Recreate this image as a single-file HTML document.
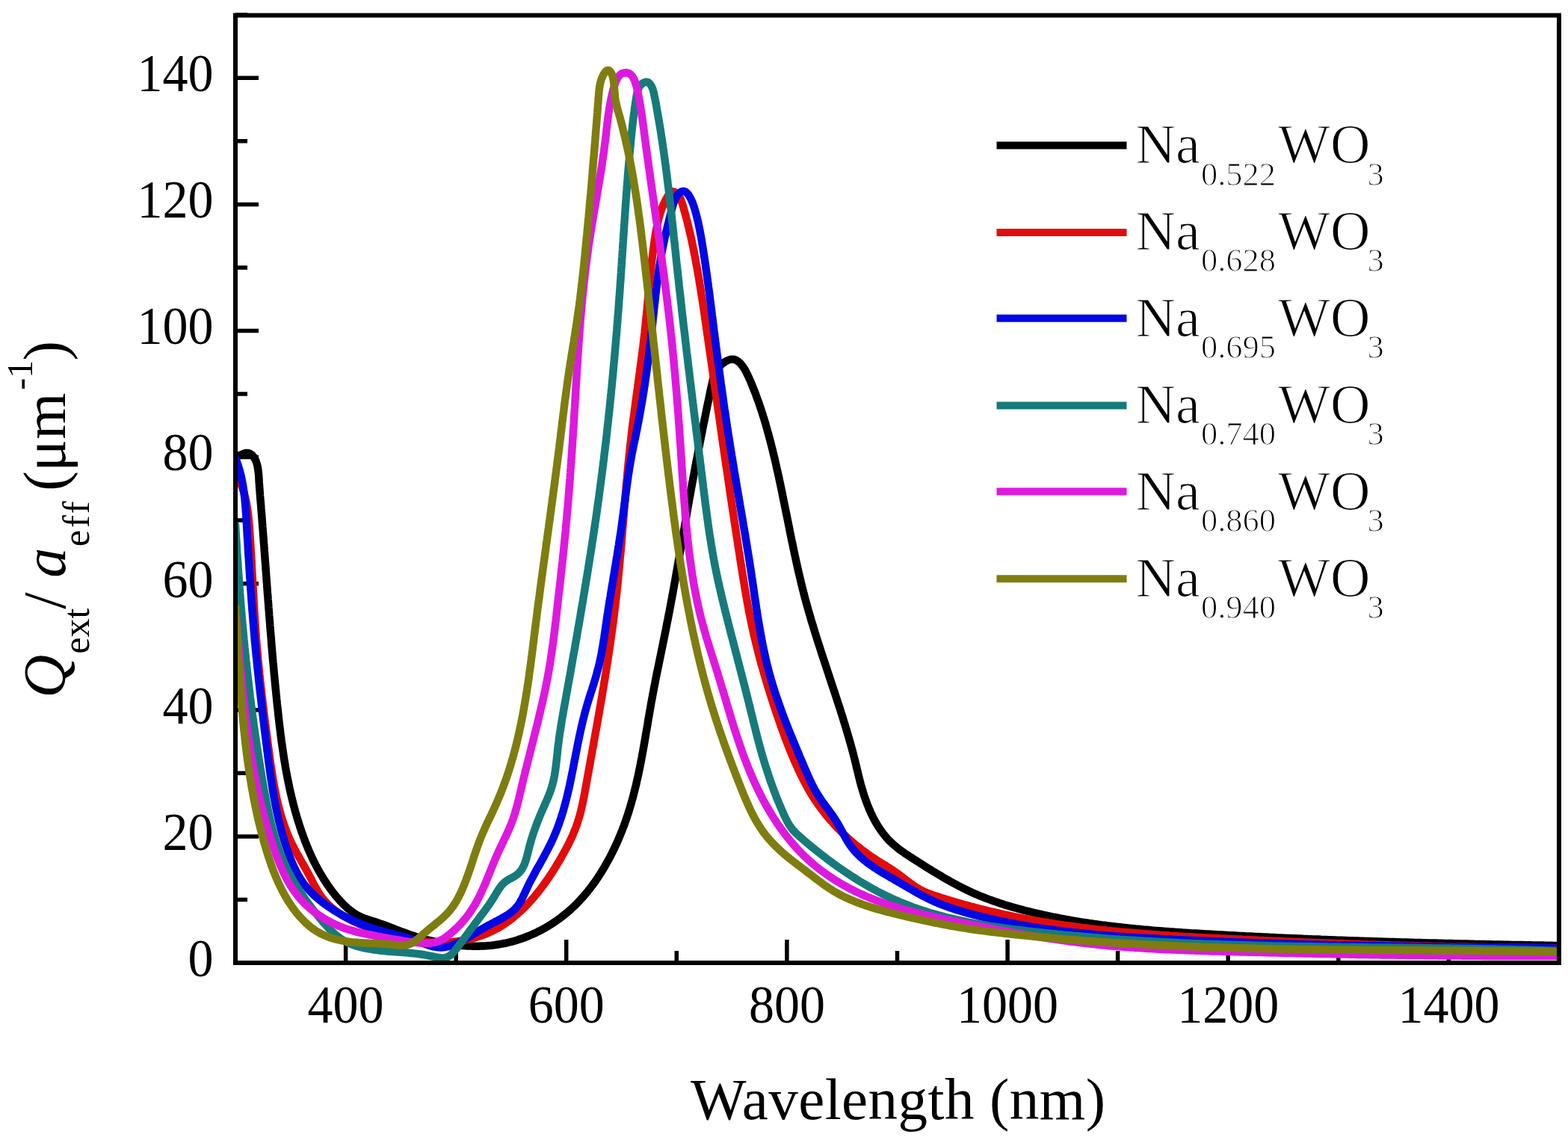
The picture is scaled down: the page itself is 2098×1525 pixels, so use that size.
<!DOCTYPE html>
<html><head><meta charset="utf-8"><style>
html,body{margin:0;padding:0;background:#fff;}
svg{display:block;}
text{font-variant-ligatures:none;font-family:"Liberation Serif","Times New Roman",serif;fill:#000;}
.t{font-size:68px;}
.xt{font-size:79px;letter-spacing:0.45px;}
.yt{font-size:80px;}
.lg{font-size:74px;stroke:#fff;stroke-width:1.2px;}
</style></head><body>
<svg width="2098" height="1525" viewBox="0 0 2098 1525" xmlns="http://www.w3.org/2000/svg">
<defs><clipPath id="cp"><rect x="315" y="20" width="1771" height="1268"/></clipPath></defs>
<rect width="2098" height="1525" fill="#fff"/>
<path d="M462.6,1288V1257 M757.7,1288V1257 M1052.9,1288V1257 M1348.1,1288V1257 M1643.2,1288V1257 M1938.4,1288V1257 M610.2,1288V1272 M905.3,1288V1272 M1200.5,1288V1272 M1495.6,1288V1272 M1790.8,1288V1272 M315,1288.0H346 M315,1118.9H346 M315,949.8H346 M315,780.7H346 M315,611.6H346 M315,442.5H346 M315,273.4H346 M315,104.3H346 M315,1203.5H331 M315,1034.3H331 M315,865.2H331 M315,696.1H331 M315,527.0H331 M315,358.0H331 M315,188.8H331 M315,19.8H331" stroke="#000" stroke-width="5.5" fill="none"/>
<g clip-path="url(#cp)" fill="none" stroke-width="10.5" stroke-linejoin="round" stroke-linecap="round">
<path d="M315.0,611.0L318.3,610.1L321.7,608.7L325.1,607.2L328.5,606.1L331.7,605.9L334.6,606.9L337.2,608.8L339.3,611.2L341.1,614.0L342.5,616.9L343.6,620.1L344.5,623.5L345.1,627.0L345.6,630.6L346.0,634.3L346.3,638.0L346.5,641.7L346.7,645.4L347.0,649.0L347.2,652.5L347.5,656.1L347.8,659.6L348.0,663.1L348.3,666.5L348.6,670.0L348.9,673.5L349.2,676.9L349.4,680.4L349.7,683.8L350.0,687.3L350.3,690.8L350.5,694.2L350.8,697.7L351.1,701.2L351.3,704.6L351.6,708.1L351.9,711.6L352.1,715.0L352.4,718.5L352.7,722.0L352.9,725.5L353.2,728.9L353.5,732.4L353.7,735.9L354.0,739.4L354.2,742.8L354.5,746.3L354.7,749.8L355.0,753.3L355.3,756.8L355.5,760.3L355.8,763.8L356.0,767.2L356.3,770.7L356.5,774.2L356.8,777.7L357.1,781.2L357.3,784.7L357.6,788.2L357.8,791.7L358.1,795.2L358.4,798.6L358.6,802.1L358.9,805.6L359.2,809.1L359.4,812.6L359.7,816.1L360.0,819.6L360.2,823.1L360.5,826.6L360.8,830.1L361.1,833.6L361.3,837.1L361.6,840.6L361.9,844.1L362.2,847.6L362.5,851.0L362.8,854.5L363.0,858.0L363.3,861.5L363.6,865.0L363.9,868.5L364.2,872.0L364.5,875.5L364.8,879.0L365.1,882.5L365.4,886.0L365.8,889.5L366.1,893.0L366.4,896.4L366.7,899.9L367.0,903.4L367.4,906.9L367.7,910.4L368.0,913.9L368.4,917.4L368.7,920.9L369.1,924.3L369.4,927.8L369.8,931.3L370.1,934.8L370.5,938.3L370.8,941.8L371.2,945.2L371.6,948.7L372.0,952.2L372.3,955.7L372.7,959.1L373.1,962.6L373.5,966.1L373.9,969.6L374.3,973.0L374.8,976.5L375.2,980.0L375.6,983.4L376.1,986.9L376.5,990.4L377.0,993.8L377.5,997.3L378.0,1000.7L378.5,1004.2L379.0,1007.6L379.5,1011.1L380.0,1014.5L380.6,1018.0L381.2,1021.4L381.7,1024.8L382.3,1028.3L382.9,1031.7L383.6,1035.1L384.2,1038.6L384.9,1042.0L385.6,1045.4L386.3,1048.8L387.0,1052.2L387.7,1055.6L388.5,1059.1L389.3,1062.5L390.1,1065.9L390.9,1069.3L391.7,1072.6L392.6,1076.0L393.5,1079.4L394.4,1082.8L395.3,1086.2L396.3,1089.5L397.2,1092.9L398.3,1096.3L399.3,1099.6L400.4,1103.0L401.4,1106.3L402.6,1109.7L403.7,1113.0L404.9,1116.3L406.1,1119.7L407.3,1123.0L408.6,1126.3L409.9,1129.5L411.2,1132.8L412.6,1136.1L413.9,1139.3L415.4,1142.5L416.8,1145.7L418.3,1148.9L419.9,1152.1L421.4,1155.2L423.0,1158.3L424.7,1161.4L426.4,1164.5L428.1,1167.5L429.9,1170.6L431.7,1173.5L433.5,1176.5L435.4,1179.4L437.3,1182.4L439.3,1185.2L441.3,1188.1L443.4,1190.9L445.5,1193.6L447.6,1196.4L449.8,1199.1L452.1,1201.7L454.4,1204.4L456.7,1206.9L459.1,1209.4L461.6,1211.8L464.2,1214.2L466.8,1216.4L469.5,1218.5L472.3,1220.6L475.2,1222.5L478.2,1224.2L481.3,1225.9L484.5,1227.3L487.8,1228.6L491.2,1229.8L494.7,1230.9L498.2,1232.0L501.6,1233.1L505.0,1234.2L508.4,1235.4L511.7,1236.5L515.0,1237.7L518.2,1238.9L521.5,1240.2L524.7,1241.4L527.9,1242.7L531.1,1243.9L534.3,1245.1L537.5,1246.3L540.8,1247.5L544.0,1248.7L547.2,1249.9L550.5,1251.0L553.8,1252.1L557.1,1253.2L560.5,1254.2L563.9,1255.1L567.3,1256.1L570.7,1257.0L574.1,1257.8L577.6,1258.6L581.0,1259.4L584.5,1260.1L588.0,1260.8L591.5,1261.4L595.0,1262.1L598.5,1262.6L602.0,1263.1L605.4,1263.6L608.9,1264.0L612.4,1264.4L615.9,1264.8L619.4,1265.1L622.9,1265.3L626.4,1265.5L629.8,1265.6L633.3,1265.7L636.8,1265.7L640.3,1265.7L643.7,1265.6L647.2,1265.5L650.6,1265.3L654.1,1265.0L657.5,1264.7L661.0,1264.3L664.4,1263.8L667.8,1263.3L671.2,1262.7L674.6,1262.0L678.0,1261.3L681.4,1260.5L684.8,1259.7L688.2,1258.7L691.5,1257.7L694.9,1256.6L698.2,1255.5L701.5,1254.3L704.8,1253.0L708.1,1251.7L711.3,1250.3L714.5,1248.9L717.7,1247.4L720.9,1245.8L724.1,1244.2L727.2,1242.5L730.3,1240.7L733.3,1238.9L736.3,1237.1L739.3,1235.2L742.3,1233.2L745.2,1231.2L748.0,1229.2L750.9,1227.1L753.6,1224.9L756.4,1222.7L759.1,1220.5L761.7,1218.2L764.3,1215.9L766.9,1213.5L769.4,1211.1L771.9,1208.6L774.3,1206.1L776.7,1203.6L779.0,1201.0L781.3,1198.4L783.6,1195.8L785.8,1193.1L787.9,1190.4L790.1,1187.7L792.2,1184.9L794.2,1182.1L796.3,1179.3L798.2,1176.4L800.2,1173.5L802.1,1170.6L804.0,1167.7L805.8,1164.7L807.6,1161.7L809.4,1158.7L811.1,1155.7L812.8,1152.6L814.5,1149.6L816.2,1146.5L817.8,1143.4L819.4,1140.2L820.9,1137.1L822.4,1133.9L823.9,1130.7L825.4,1127.6L826.8,1124.4L828.2,1121.1L829.5,1117.9L830.9,1114.7L832.2,1111.4L833.4,1108.1L834.7,1104.9L835.9,1101.6L837.1,1098.3L838.2,1095.0L839.3,1091.7L840.4,1088.3L841.5,1085.0L842.5,1081.7L843.5,1078.3L844.5,1075.0L845.4,1071.6L846.4,1068.3L847.3,1064.9L848.1,1061.5L849.0,1058.1L849.8,1054.7L850.7,1051.4L851.5,1048.0L852.2,1044.5L853.0,1041.1L853.8,1037.7L854.5,1034.3L855.2,1030.9L855.9,1027.5L856.6,1024.0L857.3,1020.6L857.9,1017.2L858.6,1013.7L859.2,1010.3L859.9,1006.8L860.5,1003.4L861.1,999.9L861.7,996.5L862.3,993.0L862.9,989.6L863.5,986.1L864.1,982.7L864.7,979.2L865.3,975.7L865.9,972.3L866.5,968.8L867.0,965.4L867.6,961.9L868.2,958.5L868.8,955.0L869.4,951.5L870.0,948.1L870.6,944.6L871.2,941.2L871.8,937.7L872.5,934.3L873.1,930.9L873.7,927.4L874.4,924.0L875.0,920.5L875.7,917.1L876.4,913.7L877.0,910.2L877.7,906.8L878.4,903.4L879.1,899.9L879.8,896.5L880.5,893.1L881.2,889.7L881.9,886.2L882.6,882.8L883.3,879.4L884.0,876.0L884.7,872.6L885.4,869.1L886.1,865.7L886.8,862.3L887.5,858.9L888.2,855.4L888.9,852.0L889.6,848.6L890.3,845.2L891.0,841.7L891.6,838.3L892.3,834.9L893.0,831.4L893.7,828.0L894.3,824.6L895.0,821.1L895.7,817.7L896.3,814.3L897.0,810.8L897.6,807.4L898.2,803.9L898.9,800.5L899.5,797.1L900.2,793.6L900.8,790.2L901.4,786.7L902.0,783.3L902.7,779.8L903.3,776.4L903.9,772.9L904.5,769.5L905.1,766.0L905.7,762.6L906.3,759.1L906.9,755.7L907.5,752.2L908.1,748.8L908.8,745.3L909.4,741.9L910.0,738.4L910.6,735.0L911.2,731.5L911.8,728.1L912.4,724.6L913.0,721.2L913.6,717.7L914.2,714.3L914.8,710.9L915.4,707.4L916.0,704.0L916.6,700.5L917.2,697.1L917.8,693.6L918.4,690.2L919.0,686.7L919.6,683.3L920.2,679.8L920.8,676.4L921.4,673.0L922.0,669.5L922.6,666.1L923.3,662.7L923.9,659.2L924.5,655.8L925.1,652.3L925.8,648.9L926.4,645.5L927.0,642.1L927.7,638.6L928.3,635.2L929.0,631.8L929.6,628.3L930.2,624.9L930.9,621.5L931.5,618.0L932.2,614.6L932.9,611.2L933.5,607.8L934.2,604.3L934.8,600.9L935.5,597.5L936.2,594.0L936.8,590.6L937.5,587.2L938.2,583.7L938.9,580.3L939.6,576.9L940.2,573.4L940.9,570.0L941.6,566.5L942.3,563.1L943.0,559.7L943.7,556.2L944.4,552.8L945.1,549.3L945.8,545.9L946.5,542.4L947.2,539.0L948.0,535.5L948.7,532.1L949.4,528.6L950.1,525.1L950.8,521.7L951.6,518.2L952.3,514.7L953.1,511.3L954.0,507.9L955.0,504.6L956.1,501.3L957.5,498.2L959.0,495.2L960.9,492.4L963.0,489.7L965.5,487.2L968.4,485.0L971.7,483.0L975.2,481.5L978.6,480.7L981.9,480.8L985.0,481.8L987.8,483.6L990.4,485.9L992.7,488.6L994.9,491.7L996.9,494.9L998.6,498.1L1000.2,501.3L1001.7,504.5L1003.1,507.6L1004.5,510.8L1005.8,514.0L1007.1,517.2L1008.4,520.5L1009.7,523.7L1010.9,526.9L1012.1,530.2L1013.3,533.5L1014.5,536.7L1015.7,540.0L1016.8,543.3L1017.9,546.6L1019.0,549.9L1020.1,553.3L1021.1,556.6L1022.2,559.9L1023.2,563.3L1024.2,566.6L1025.1,570.0L1026.1,573.3L1027.0,576.7L1028.0,580.1L1028.9,583.5L1029.8,586.8L1030.7,590.2L1031.6,593.6L1032.4,597.0L1033.3,600.4L1034.1,603.8L1034.9,607.2L1035.8,610.6L1036.6,614.0L1037.4,617.4L1038.2,620.9L1038.9,624.3L1039.7,627.7L1040.5,631.1L1041.2,634.5L1042.0,637.9L1042.7,641.4L1043.4,644.8L1044.2,648.2L1044.9,651.6L1045.6,655.1L1046.3,658.5L1047.0,661.9L1047.7,665.4L1048.4,668.8L1049.1,672.2L1049.8,675.7L1050.5,679.1L1051.2,682.5L1051.9,686.0L1052.6,689.4L1053.3,692.8L1054.0,696.2L1054.7,699.7L1055.4,703.1L1056.1,706.5L1056.7,710.0L1057.4,713.4L1058.1,716.8L1058.8,720.3L1059.5,723.7L1060.3,727.1L1061.0,730.5L1061.7,734.0L1062.4,737.4L1063.1,740.8L1063.9,744.2L1064.6,747.6L1065.3,751.0L1066.1,754.5L1066.9,757.9L1067.6,761.3L1068.4,764.7L1069.2,768.1L1070.0,771.5L1070.8,774.9L1071.6,778.3L1072.4,781.7L1073.3,785.1L1074.1,788.5L1075.0,791.8L1075.8,795.2L1076.7,798.6L1077.6,802.0L1078.5,805.3L1079.5,808.7L1080.4,812.1L1081.3,815.4L1082.3,818.8L1083.3,822.1L1084.3,825.5L1085.2,828.8L1086.2,832.2L1087.3,835.5L1088.3,838.9L1089.3,842.2L1090.3,845.6L1091.4,848.9L1092.4,852.2L1093.5,855.6L1094.5,858.9L1095.6,862.2L1096.7,865.6L1097.8,868.9L1098.8,872.2L1099.9,875.6L1101.0,878.9L1102.1,882.2L1103.2,885.5L1104.3,888.9L1105.4,892.2L1106.5,895.5L1107.6,898.8L1108.7,902.2L1109.8,905.5L1110.9,908.8L1112.0,912.2L1113.1,915.5L1114.2,918.8L1115.3,922.2L1116.5,925.5L1117.5,928.8L1118.6,932.2L1119.7,935.5L1120.8,938.9L1121.9,942.2L1123.0,945.5L1124.1,948.9L1125.1,952.2L1126.2,955.6L1127.3,958.9L1128.3,962.3L1129.3,965.7L1130.4,969.0L1131.4,972.4L1132.4,975.7L1133.4,979.1L1134.4,982.5L1135.4,985.8L1136.4,989.2L1137.3,992.5L1138.3,995.9L1139.2,999.2L1140.1,1002.6L1141.0,1005.9L1141.9,1009.3L1142.7,1012.6L1143.6,1016.0L1144.4,1019.3L1145.2,1022.6L1146.0,1026.0L1146.8,1029.3L1147.6,1032.6L1148.4,1036.0L1149.2,1039.3L1150.1,1042.7L1150.9,1046.0L1151.8,1049.4L1152.8,1052.8L1153.8,1056.2L1154.8,1059.6L1155.9,1063.0L1157.0,1066.4L1158.2,1069.8L1159.4,1073.1L1160.7,1076.5L1162.0,1079.8L1163.4,1083.1L1164.8,1086.4L1166.3,1089.6L1167.9,1092.9L1169.5,1096.0L1171.2,1099.1L1173.0,1102.2L1174.8,1105.2L1176.7,1108.1L1178.7,1111.0L1180.8,1113.9L1182.9,1116.6L1185.1,1119.3L1187.4,1121.9L1189.7,1124.4L1192.2,1126.8L1194.7,1129.1L1197.3,1131.4L1199.9,1133.6L1202.7,1135.7L1205.4,1137.8L1208.3,1139.8L1211.1,1141.8L1214.0,1143.7L1216.9,1145.6L1219.9,1147.5L1222.8,1149.4L1225.8,1151.3L1228.7,1153.2L1231.7,1155.1L1234.7,1156.9L1237.6,1158.8L1240.6,1160.7L1243.6,1162.5L1246.6,1164.4L1249.6,1166.2L1252.6,1168.0L1255.6,1169.8L1258.6,1171.6L1261.6,1173.4L1264.7,1175.2L1267.7,1176.9L1270.7,1178.6L1273.8,1180.3L1276.9,1182.0L1280.0,1183.7L1283.1,1185.3L1286.2,1186.9L1289.3,1188.5L1292.4,1190.0L1295.6,1191.5L1298.7,1193.0L1301.9,1194.5L1305.1,1195.9L1308.3,1197.2L1311.5,1198.6L1314.8,1199.9L1318.0,1201.2L1321.3,1202.4L1324.6,1203.6L1327.9,1204.8L1331.2,1206.0L1334.5,1207.1L1337.8,1208.2L1341.1,1209.3L1344.5,1210.4L1347.8,1211.4L1351.2,1212.4L1354.5,1213.4L1357.9,1214.3L1361.3,1215.3L1364.7,1216.2L1368.1,1217.1L1371.4,1218.0L1374.8,1218.8L1378.2,1219.7L1381.6,1220.5L1385.0,1221.3L1388.5,1222.1L1391.9,1222.9L1395.3,1223.7L1398.7,1224.4L1402.1,1225.1L1405.5,1225.9L1409.0,1226.6L1412.4,1227.2L1415.8,1227.9L1419.3,1228.6L1422.7,1229.2L1426.1,1229.9L1429.6,1230.5L1433.0,1231.1L1436.4,1231.7L1439.9,1232.2L1443.3,1232.8L1446.8,1233.4L1450.2,1233.9L1453.7,1234.4L1457.1,1235.0L1460.6,1235.5L1464.1,1236.0L1467.5,1236.4L1471.0,1236.9L1474.4,1237.4L1477.9,1237.8L1481.4,1238.3L1484.8,1238.7L1488.3,1239.1L1491.8,1239.5L1495.3,1239.9L1498.7,1240.3L1502.2,1240.7L1505.7,1241.1L1509.2,1241.4L1512.7,1241.8L1516.1,1242.1L1519.6,1242.5L1523.1,1242.8L1526.6,1243.1L1530.1,1243.5L1533.6,1243.8L1537.0,1244.1L1540.5,1244.4L1544.0,1244.7L1547.5,1244.9L1551.0,1245.2L1554.5,1245.5L1558.0,1245.8L1561.5,1246.0L1565.0,1246.3L1568.5,1246.5L1572.0,1246.8L1575.5,1247.0L1579.0,1247.2L1582.4,1247.5L1585.9,1247.7L1589.4,1247.9L1592.9,1248.2L1596.4,1248.4L1599.9,1248.6L1603.4,1248.8L1606.9,1249.0L1610.4,1249.2L1613.9,1249.4L1617.4,1249.6L1620.9,1249.8L1624.4,1250.0L1627.9,1250.2L1631.4,1250.4L1634.9,1250.6L1638.4,1250.8L1641.9,1251.0L1645.4,1251.2L1648.9,1251.3L1652.4,1251.5L1655.9,1251.7L1659.4,1251.9L1662.9,1252.1L1666.4,1252.3L1669.9,1252.4L1673.4,1252.6L1676.9,1252.8L1680.4,1253.0L1683.9,1253.1L1687.4,1253.3L1690.8,1253.5L1694.3,1253.6L1697.8,1253.8L1701.3,1254.0L1704.8,1254.1L1708.3,1254.3L1711.8,1254.4L1715.3,1254.6L1718.8,1254.7L1722.3,1254.9L1725.8,1255.0L1729.3,1255.2L1732.8,1255.3L1736.3,1255.5L1739.8,1255.6L1743.3,1255.8L1746.8,1255.9L1750.3,1256.1L1753.8,1256.2L1757.3,1256.4L1760.7,1256.5L1764.2,1256.6L1767.7,1256.8L1771.2,1256.9L1774.7,1257.0L1778.2,1257.2L1781.7,1257.3L1785.2,1257.4L1788.7,1257.6L1792.2,1257.7L1795.7,1257.8L1799.2,1257.9L1802.7,1258.1L1806.2,1258.2L1809.7,1258.3L1813.2,1258.4L1816.7,1258.5L1820.2,1258.7L1823.7,1258.8L1827.1,1258.9L1830.6,1259.0L1834.1,1259.1L1837.6,1259.2L1841.1,1259.3L1844.6,1259.5L1848.1,1259.6L1851.6,1259.7L1855.1,1259.8L1858.6,1259.9L1862.1,1260.0L1865.6,1260.1L1869.1,1260.2L1872.6,1260.3L1876.1,1260.4L1879.6,1260.5L1883.1,1260.6L1886.6,1260.7L1890.1,1260.8L1893.6,1260.9L1897.1,1261.0L1900.6,1261.1L1904.0,1261.2L1907.5,1261.3L1911.0,1261.4L1914.5,1261.4L1918.0,1261.5L1921.5,1261.6L1925.0,1261.7L1928.5,1261.8L1932.0,1261.9L1935.5,1262.0L1939.0,1262.0L1942.5,1262.1L1946.0,1262.2L1949.5,1262.3L1953.0,1262.4L1956.5,1262.5L1960.0,1262.5L1963.5,1262.6L1967.0,1262.7L1970.5,1262.8L1974.0,1262.9L1977.5,1262.9L1981.0,1263.0L1984.5,1263.1L1988.0,1263.2L1991.5,1263.2L1995.0,1263.3L1998.5,1263.4L2002.0,1263.4L2005.5,1263.5L2009.0,1263.6L2012.5,1263.7L2016.0,1263.7L2019.5,1263.8L2023.0,1263.9L2026.5,1263.9L2030.0,1264.0L2033.5,1264.1L2037.0,1264.1L2040.5,1264.2L2044.0,1264.3L2047.5,1264.3L2051.0,1264.4L2054.5,1264.5L2058.0,1264.5L2061.5,1264.6L2065.0,1264.6L2068.5,1264.7L2072.0,1264.8L2075.5,1264.8L2079.0,1264.9L2082.5,1264.9L2086.0,1265.0" stroke="#000000"/>
<path d="M315.0,633.0L316.8,636.1L318.5,639.3L320.1,642.5L321.6,645.7L322.9,648.9L324.2,652.2L325.3,655.5L326.3,658.8L327.3,662.1L328.1,665.5L328.9,668.9L329.6,672.2L330.2,675.7L330.8,679.1L331.3,682.5L331.8,686.0L332.2,689.4L332.6,692.9L332.9,696.4L333.2,699.8L333.5,703.3L333.7,706.8L334.0,710.3L334.2,713.8L334.5,717.3L334.7,720.8L335.0,724.3L335.2,727.8L335.4,731.3L335.6,734.8L335.8,738.3L336.0,741.8L336.2,745.3L336.5,748.8L336.7,752.3L336.8,755.8L337.0,759.3L337.2,762.8L337.4,766.3L337.6,769.8L337.8,773.3L338.0,776.8L338.2,780.3L338.4,783.8L338.6,787.3L338.8,790.8L339.0,794.3L339.2,797.8L339.4,801.3L339.6,804.8L339.8,808.3L340.0,811.8L340.2,815.3L340.4,818.8L340.6,822.3L340.8,825.8L341.1,829.3L341.3,832.8L341.5,836.3L341.8,839.8L342.0,843.3L342.3,846.7L342.5,850.2L342.8,853.7L343.1,857.2L343.4,860.7L343.7,864.1L344.0,867.6L344.3,871.1L344.6,874.6L344.9,878.0L345.2,881.5L345.6,885.0L345.9,888.4L346.3,891.9L346.6,895.4L347.0,898.8L347.3,902.3L347.7,905.7L348.1,909.2L348.4,912.7L348.8,916.1L349.2,919.6L349.6,923.1L350.0,926.5L350.4,930.0L350.8,933.5L351.2,936.9L351.6,940.4L352.0,943.9L352.4,947.3L352.9,950.8L353.3,954.3L353.7,957.7L354.1,961.2L354.6,964.7L355.0,968.2L355.5,971.6L355.9,975.1L356.4,978.6L356.8,982.1L357.3,985.6L357.7,989.1L358.2,992.5L358.6,996.0L359.1,999.5L359.6,1003.0L360.0,1006.5L360.5,1010.0L361.0,1013.5L361.4,1017.0L361.9,1020.5L362.4,1024.0L363.0,1027.5L363.5,1031.0L364.0,1034.5L364.6,1038.0L365.1,1041.5L365.7,1045.0L366.3,1048.4L367.0,1051.9L367.6,1055.4L368.3,1058.8L369.0,1062.2L369.7,1065.7L370.5,1069.1L371.2,1072.5L372.0,1075.9L372.9,1079.3L373.8,1082.6L374.7,1086.0L375.6,1089.3L376.6,1092.7L377.6,1096.0L378.7,1099.3L379.8,1102.6L380.9,1105.8L382.1,1109.1L383.3,1112.3L384.6,1115.5L385.9,1118.7L387.3,1121.8L388.7,1125.0L390.2,1128.1L391.8,1131.2L393.3,1134.3L394.9,1137.3L396.6,1140.4L398.3,1143.4L400.0,1146.5L401.7,1149.5L403.4,1152.6L405.2,1155.6L406.9,1158.7L408.7,1161.7L410.4,1164.8L412.1,1167.9L413.8,1171.1L415.5,1174.2L417.1,1177.4L418.8,1180.6L420.4,1183.8L422.1,1186.9L423.9,1190.0L425.7,1193.1L427.5,1196.0L429.5,1198.9L431.6,1201.6L433.8,1204.3L436.1,1206.8L438.4,1209.3L440.9,1211.6L443.4,1213.9L446.0,1216.1L448.7,1218.2L451.5,1220.2L454.4,1222.1L457.3,1224.0L460.2,1225.8L463.2,1227.5L466.3,1229.2L469.4,1230.8L472.6,1232.3L475.8,1233.8L479.0,1235.3L482.3,1236.7L485.5,1238.0L488.9,1239.3L492.2,1240.6L495.5,1241.8L498.9,1243.1L502.2,1244.2L505.6,1245.4L508.9,1246.5L512.3,1247.6L515.6,1248.6L519.0,1249.7L522.4,1250.7L525.8,1251.6L529.1,1252.5L532.5,1253.4L535.9,1254.2L539.3,1255.0L542.7,1255.8L546.1,1256.5L549.5,1257.1L553.0,1257.7L556.4,1258.3L559.8,1258.8L563.3,1259.2L566.7,1259.6L570.1,1260.0L573.6,1260.3L577.1,1260.5L580.5,1260.7L584.0,1260.8L587.5,1260.8L591.0,1260.8L594.5,1260.7L598.0,1260.5L601.5,1260.3L605.1,1260.0L608.6,1259.6L612.1,1259.2L615.6,1258.7L619.0,1258.1L622.5,1257.5L626.0,1256.7L629.4,1255.9L632.8,1255.1L636.2,1254.1L639.5,1253.1L642.9,1252.0L646.2,1250.8L649.4,1249.6L652.6,1248.2L655.8,1246.8L659.0,1245.3L662.1,1243.7L665.1,1242.1L668.1,1240.4L671.1,1238.6L674.0,1236.7L676.9,1234.8L679.7,1232.8L682.5,1230.7L685.2,1228.6L688.0,1226.4L690.6,1224.1L693.3,1221.8L695.8,1219.5L698.4,1217.1L700.9,1214.7L703.4,1212.2L705.8,1209.6L708.2,1207.1L710.6,1204.5L712.9,1201.8L715.2,1199.2L717.4,1196.5L719.6,1193.7L721.8,1191.0L724.0,1188.2L726.1,1185.4L728.1,1182.6L730.2,1179.7L732.2,1176.9L734.2,1174.0L736.1,1171.1L738.1,1168.2L740.0,1165.2L741.8,1162.3L743.7,1159.3L745.5,1156.3L747.3,1153.3L749.1,1150.3L750.8,1147.3L752.5,1144.2L754.2,1141.2L755.9,1138.1L757.6,1135.0L759.2,1132.0L760.8,1128.9L762.3,1125.7L763.8,1122.6L765.3,1119.5L766.7,1116.3L768.0,1113.1L769.3,1109.9L770.6,1106.6L771.8,1103.4L772.9,1100.1L773.9,1096.8L774.9,1093.5L775.9,1090.1L776.8,1086.7L777.6,1083.3L778.4,1079.9L779.2,1076.5L779.9,1073.0L780.6,1069.6L781.3,1066.1L782.0,1062.7L782.6,1059.2L783.2,1055.7L783.9,1052.3L784.5,1048.8L785.1,1045.3L785.7,1041.8L786.4,1038.4L787.0,1034.9L787.6,1031.5L788.2,1028.0L788.9,1024.6L789.5,1021.1L790.1,1017.7L790.7,1014.2L791.4,1010.8L792.0,1007.3L792.6,1003.9L793.2,1000.4L793.9,997.0L794.5,993.5L795.1,990.1L795.7,986.7L796.3,983.2L796.9,979.8L797.6,976.3L798.2,972.9L798.8,969.5L799.4,966.0L800.0,962.6L800.6,959.1L801.2,955.7L801.8,952.3L802.4,948.8L803.0,945.4L803.6,941.9L804.2,938.5L804.8,935.1L805.4,931.6L805.9,928.2L806.5,924.7L807.1,921.3L807.7,917.8L808.2,914.4L808.8,910.9L809.4,907.5L809.9,904.0L810.5,900.6L811.0,897.1L811.6,893.7L812.1,890.2L812.7,886.7L813.2,883.3L813.7,879.8L814.2,876.4L814.8,872.9L815.3,869.4L815.8,866.0L816.3,862.5L816.8,859.1L817.3,855.6L817.8,852.1L818.3,848.7L818.7,845.2L819.2,841.7L819.7,838.3L820.1,834.8L820.6,831.3L821.0,827.8L821.5,824.4L821.9,820.9L822.3,817.4L822.8,814.0L823.2,810.5L823.6,807.0L824.0,803.5L824.4,800.1L824.8,796.6L825.2,793.1L825.5,789.6L825.9,786.1L826.3,782.7L826.6,779.2L827.0,775.7L827.3,772.2L827.7,768.7L828.0,765.3L828.3,761.8L828.7,758.3L829.0,754.8L829.3,751.3L829.6,747.8L829.9,744.4L830.3,740.9L830.6,737.4L830.9,733.9L831.2,730.4L831.5,726.9L831.8,723.5L832.1,720.0L832.3,716.5L832.6,713.0L832.9,709.5L833.2,706.0L833.5,702.5L833.8,699.1L834.1,695.6L834.4,692.1L834.7,688.6L834.9,685.1L835.2,681.6L835.5,678.1L835.8,674.7L836.1,671.2L836.4,667.7L836.7,664.2L837.0,660.7L837.3,657.2L837.6,653.7L837.9,650.3L838.2,646.8L838.5,643.3L838.9,639.8L839.2,636.3L839.5,632.8L839.8,629.4L840.2,625.9L840.5,622.4L840.8,618.9L841.2,615.4L841.5,612.0L841.9,608.5L842.3,605.0L842.6,601.5L843.0,598.0L843.4,594.6L843.8,591.1L844.2,587.6L844.6,584.1L845.0,580.7L845.4,577.2L845.8,573.7L846.2,570.2L846.7,566.8L847.1,563.3L847.6,559.8L848.0,556.4L848.5,552.9L848.9,549.4L849.4,545.9L849.9,542.5L850.3,539.0L850.8,535.5L851.3,532.1L851.7,528.6L852.2,525.1L852.7,521.7L853.2,518.2L853.6,514.7L854.1,511.3L854.6,507.8L855.0,504.3L855.5,500.9L856.0,497.4L856.4,493.9L856.9,490.4L857.4,487.0L857.8,483.5L858.3,480.0L858.7,476.6L859.2,473.1L859.6,469.6L860.0,466.2L860.5,462.7L860.9,459.2L861.3,455.7L861.7,452.3L862.1,448.8L862.5,445.3L862.8,441.8L863.2,438.4L863.6,434.9L863.9,431.4L864.3,427.9L864.6,424.5L865.0,421.0L865.3,417.5L865.7,414.0L866.0,410.6L866.3,407.1L866.6,403.6L867.0,400.1L867.3,396.6L867.6,393.2L868.0,389.7L868.3,386.2L868.6,382.7L869.0,379.2L869.3,375.8L869.7,372.3L870.0,368.8L870.4,365.3L870.8,361.9L871.2,358.4L871.5,354.9L871.9,351.4L872.3,347.9L872.8,344.5L873.2,341.0L873.6,337.5L874.1,334.0L874.6,330.6L875.0,327.1L875.5,323.6L876.0,320.1L876.6,316.7L877.1,313.2L877.7,309.7L878.3,306.3L879.0,302.8L879.7,299.4L880.5,296.0L881.3,292.6L882.2,289.2L883.2,285.8L884.3,282.5L885.5,279.2L886.8,275.9L888.2,272.6L889.7,269.4L891.3,266.2L893.1,263.0L895.0,260.0L897.2,257.6L899.6,256.3L902.3,256.6L905.0,258.3L907.4,260.6L909.3,263.5L910.8,266.6L912.1,270.1L913.3,273.6L914.3,277.2L915.3,280.7L916.3,284.2L917.3,287.7L918.2,291.2L919.1,294.7L920.0,298.1L920.8,301.5L921.6,304.9L922.4,308.3L923.2,311.7L924.0,315.1L924.7,318.5L925.5,321.9L926.2,325.3L926.9,328.7L927.6,332.0L928.3,335.4L928.9,338.8L929.6,342.2L930.3,345.6L930.9,349.1L931.5,352.5L932.2,355.9L932.8,359.3L933.4,362.7L934.0,366.2L934.6,369.6L935.2,373.1L935.7,376.5L936.3,380.0L936.9,383.4L937.4,386.9L938.0,390.3L938.5,393.8L939.1,397.2L939.6,400.7L940.1,404.2L940.6,407.6L941.2,411.1L941.7,414.6L942.2,418.0L942.7,421.5L943.2,425.0L943.7,428.5L944.2,431.9L944.7,435.4L945.2,438.9L945.7,442.4L946.2,445.8L946.7,449.3L947.2,452.8L947.7,456.3L948.2,459.7L948.7,463.2L949.2,466.7L949.7,470.2L950.2,473.6L950.7,477.1L951.2,480.6L951.7,484.0L952.2,487.5L952.7,491.0L953.2,494.4L953.7,497.9L954.2,501.4L954.7,504.8L955.1,508.3L955.6,511.8L956.1,515.2L956.6,518.7L957.1,522.2L957.6,525.6L958.1,529.1L958.6,532.6L959.1,536.0L959.6,539.5L960.1,542.9L960.6,546.4L961.1,549.9L961.6,553.3L962.1,556.8L962.6,560.3L963.1,563.7L963.6,567.2L964.1,570.6L964.5,574.1L965.0,577.6L965.5,581.0L966.0,584.5L966.5,587.9L967.0,591.4L967.5,594.8L968.0,598.3L968.5,601.8L969.0,605.2L969.5,608.7L970.0,612.1L970.5,615.6L971.0,619.1L971.5,622.5L972.1,626.0L972.6,629.4L973.1,632.9L973.6,636.3L974.1,639.8L974.6,643.3L975.1,646.7L975.6,650.2L976.1,653.6L976.6,657.1L977.1,660.5L977.6,664.0L978.2,667.5L978.7,670.9L979.2,674.4L979.7,677.8L980.2,681.3L980.7,684.7L981.3,688.2L981.8,691.7L982.3,695.1L982.8,698.6L983.3,702.0L983.9,705.5L984.4,709.0L984.9,712.4L985.4,715.9L986.0,719.3L986.5,722.8L987.0,726.3L987.6,729.7L988.1,733.2L988.6,736.6L989.2,740.1L989.7,743.6L990.2,747.0L990.8,750.5L991.3,753.9L991.9,757.4L992.4,760.9L993.0,764.3L993.5,767.8L994.1,771.3L994.6,774.7L995.2,778.2L995.8,781.6L996.3,785.1L996.9,788.6L997.5,792.0L998.1,795.5L998.7,798.9L999.3,802.4L999.9,805.8L1000.6,809.3L1001.2,812.7L1001.8,816.1L1002.5,819.6L1003.2,823.0L1003.9,826.4L1004.6,829.9L1005.3,833.3L1006.0,836.7L1006.7,840.1L1007.5,843.5L1008.2,846.9L1009.0,850.3L1009.8,853.7L1010.6,857.1L1011.4,860.5L1012.3,863.9L1013.1,867.3L1014.0,870.7L1014.8,874.0L1015.7,877.4L1016.6,880.8L1017.5,884.2L1018.4,887.5L1019.4,890.9L1020.3,894.2L1021.3,897.6L1022.2,900.9L1023.2,904.3L1024.2,907.6L1025.2,911.0L1026.2,914.3L1027.2,917.7L1028.2,921.0L1029.3,924.4L1030.3,927.7L1031.4,931.0L1032.4,934.4L1033.5,937.7L1034.6,941.0L1035.7,944.3L1036.8,947.7L1037.9,951.0L1039.0,954.3L1040.1,957.6L1041.3,961.0L1042.4,964.3L1043.6,967.6L1044.7,970.9L1045.9,974.2L1047.1,977.5L1048.3,980.8L1049.5,984.1L1050.7,987.4L1052.0,990.7L1053.2,993.9L1054.5,997.2L1055.8,1000.5L1057.1,1003.7L1058.4,1007.0L1059.8,1010.2L1061.1,1013.4L1062.5,1016.6L1063.9,1019.8L1065.3,1023.0L1066.8,1026.2L1068.2,1029.4L1069.7,1032.5L1071.2,1035.7L1072.7,1038.8L1074.3,1041.9L1075.8,1045.0L1077.5,1048.1L1079.1,1051.1L1080.8,1054.2L1082.5,1057.2L1084.3,1060.2L1086.1,1063.2L1087.9,1066.1L1089.8,1069.0L1091.7,1072.0L1093.7,1074.8L1095.7,1077.7L1097.8,1080.5L1099.9,1083.3L1102.0,1086.1L1104.2,1088.9L1106.4,1091.6L1108.6,1094.3L1110.9,1097.0L1113.2,1099.6L1115.6,1102.2L1117.9,1104.8L1120.3,1107.4L1122.8,1109.9L1125.3,1112.4L1127.8,1114.9L1130.3,1117.3L1132.9,1119.7L1135.5,1122.1L1138.1,1124.4L1140.8,1126.7L1143.5,1129.0L1146.2,1131.2L1148.9,1133.4L1151.7,1135.6L1154.5,1137.7L1157.3,1139.8L1160.1,1141.8L1163.0,1143.9L1165.8,1145.8L1168.7,1147.8L1171.7,1149.7L1174.6,1151.6L1177.5,1153.4L1180.5,1155.2L1183.5,1157.0L1186.4,1158.9L1189.4,1160.7L1192.3,1162.6L1195.2,1164.5L1198.1,1166.5L1201.0,1168.5L1203.8,1170.6L1206.6,1172.8L1209.4,1174.9L1212.2,1177.1L1215.0,1179.2L1217.8,1181.4L1220.7,1183.4L1223.6,1185.4L1226.5,1187.3L1229.5,1189.1L1232.5,1190.8L1235.6,1192.3L1238.8,1193.7L1242.0,1195.0L1245.3,1196.2L1248.6,1197.4L1251.9,1198.5L1255.2,1199.6L1258.5,1200.7L1261.9,1201.8L1265.2,1202.8L1268.6,1203.8L1271.9,1204.8L1275.3,1205.9L1278.6,1206.8L1282.0,1207.8L1285.4,1208.8L1288.7,1209.7L1292.1,1210.7L1295.5,1211.6L1298.9,1212.5L1302.2,1213.4L1305.6,1214.3L1309.0,1215.2L1312.4,1216.0L1315.8,1216.9L1319.2,1217.7L1322.6,1218.5L1326.0,1219.3L1329.4,1220.1L1332.9,1220.9L1336.3,1221.7L1339.7,1222.5L1343.1,1223.2L1346.5,1224.0L1350.0,1224.7L1353.4,1225.4L1356.8,1226.1L1360.3,1226.8L1363.7,1227.5L1367.1,1228.1L1370.6,1228.8L1374.0,1229.4L1377.4,1230.1L1380.9,1230.7L1384.3,1231.3L1387.8,1231.9L1391.2,1232.5L1394.7,1233.1L1398.1,1233.7L1401.6,1234.2L1405.0,1234.8L1408.5,1235.3L1411.9,1235.9L1415.4,1236.4L1418.9,1236.9L1422.3,1237.4L1425.8,1237.9L1429.2,1238.4L1432.7,1238.9L1436.2,1239.3L1439.6,1239.8L1443.1,1240.2L1446.6,1240.7L1450.0,1241.1L1453.5,1241.5L1457.0,1242.0L1460.4,1242.4L1463.9,1242.8L1467.4,1243.2L1470.9,1243.6L1474.3,1243.9L1477.8,1244.3L1481.3,1244.7L1484.8,1245.0L1488.2,1245.4L1491.7,1245.7L1495.2,1246.1L1498.7,1246.4L1502.2,1246.7L1505.7,1247.0L1509.1,1247.3L1512.6,1247.6L1516.1,1247.9L1519.6,1248.2L1523.1,1248.5L1526.6,1248.8L1530.1,1249.1L1533.5,1249.4L1537.0,1249.6L1540.5,1249.9L1544.0,1250.1L1547.5,1250.4L1551.0,1250.6L1554.5,1250.9L1558.0,1251.1L1561.5,1251.3L1565.0,1251.6L1568.4,1251.8L1571.9,1252.0L1575.4,1252.2L1578.9,1252.5L1582.4,1252.7L1585.9,1252.9L1589.4,1253.1L1592.9,1253.3L1596.4,1253.5L1599.9,1253.7L1603.4,1253.9L1606.9,1254.0L1610.4,1254.2L1613.9,1254.4L1617.4,1254.6L1620.9,1254.8L1624.4,1255.0L1627.9,1255.1L1631.4,1255.3L1634.9,1255.5L1638.4,1255.6L1641.9,1255.8L1645.4,1256.0L1648.9,1256.2L1652.4,1256.3L1655.9,1256.5L1659.3,1256.6L1662.8,1256.8L1666.3,1257.0L1669.8,1257.1L1673.3,1257.3L1676.8,1257.5L1680.3,1257.6L1683.8,1257.8L1687.3,1257.9L1690.8,1258.1L1694.3,1258.2L1697.8,1258.4L1701.3,1258.5L1704.8,1258.7L1708.3,1258.8L1711.8,1259.0L1715.3,1259.1L1718.8,1259.3L1722.3,1259.4L1725.8,1259.6L1729.3,1259.7L1732.8,1259.9L1736.3,1260.0L1739.8,1260.1L1743.3,1260.3L1746.8,1260.4L1750.3,1260.6L1753.7,1260.7L1757.2,1260.8L1760.7,1261.0L1764.2,1261.1L1767.7,1261.2L1771.2,1261.4L1774.7,1261.5L1778.2,1261.6L1781.7,1261.7L1785.2,1261.9L1788.7,1262.0L1792.2,1262.1L1795.7,1262.2L1799.2,1262.4L1802.7,1262.5L1806.2,1262.6L1809.7,1262.7L1813.2,1262.8L1816.7,1263.0L1820.2,1263.1L1823.7,1263.2L1827.2,1263.3L1830.7,1263.4L1834.2,1263.5L1837.6,1263.6L1841.1,1263.7L1844.6,1263.8L1848.1,1263.9L1851.6,1264.1L1855.1,1264.2L1858.6,1264.3L1862.1,1264.4L1865.6,1264.5L1869.1,1264.6L1872.6,1264.7L1876.1,1264.7L1879.6,1264.8L1883.1,1264.9L1886.6,1265.0L1890.1,1265.1L1893.6,1265.2L1897.1,1265.3L1900.6,1265.4L1904.1,1265.5L1907.6,1265.5L1911.1,1265.6L1914.6,1265.7L1918.1,1265.8L1921.6,1265.9L1925.1,1265.9L1928.6,1266.0L1932.0,1266.1L1935.5,1266.2L1939.0,1266.2L1942.5,1266.3L1946.0,1266.4L1949.5,1266.5L1953.0,1266.5L1956.5,1266.6L1960.0,1266.6L1963.5,1266.7L1967.0,1266.8L1970.5,1266.8L1974.0,1266.9L1977.5,1266.9L1981.0,1267.0L1984.5,1267.1L1988.0,1267.1L1991.5,1267.2L1995.0,1267.2L1998.5,1267.3L2002.0,1267.3L2005.5,1267.4L2009.0,1267.4L2012.5,1267.4L2016.0,1267.5L2019.5,1267.5L2023.0,1267.6L2026.5,1267.6L2030.0,1267.6L2033.5,1267.7L2037.0,1267.7L2040.5,1267.7L2044.0,1267.8L2047.5,1267.8L2051.0,1267.8L2054.5,1267.8L2058.0,1267.9L2061.5,1267.9L2065.0,1267.9L2068.5,1267.9L2072.0,1267.9L2075.5,1268.0L2079.0,1268.0L2082.5,1268.0L2086.0,1268.0" stroke="#e20c0c"/>
<path d="M315.0,613.0L316.3,616.3L317.5,619.6L318.7,622.9L319.7,626.2L320.7,629.6L321.6,633.0L322.5,636.3L323.2,639.7L323.9,643.1L324.6,646.6L325.2,650.0L325.7,653.4L326.2,656.9L326.7,660.3L327.1,663.8L327.5,667.2L327.8,670.7L328.1,674.2L328.4,677.7L328.7,681.2L328.9,684.7L329.2,688.2L329.4,691.7L329.6,695.2L329.8,698.7L330.0,702.2L330.2,705.7L330.4,709.2L330.6,712.7L330.8,716.2L331.0,719.7L331.3,723.2L331.5,726.7L331.7,730.2L331.9,733.7L332.1,737.2L332.3,740.7L332.5,744.2L332.8,747.7L333.0,751.2L333.2,754.6L333.4,758.1L333.6,761.6L333.9,765.1L334.1,768.6L334.3,772.1L334.6,775.6L334.8,779.1L335.0,782.6L335.3,786.1L335.5,789.6L335.8,793.1L336.0,796.6L336.3,800.1L336.5,803.5L336.8,807.0L337.1,810.5L337.3,814.0L337.6,817.5L337.9,821.0L338.1,824.5L338.4,828.0L338.7,831.4L339.0,834.9L339.3,838.4L339.6,841.9L339.9,845.4L340.2,848.9L340.5,852.3L340.8,855.8L341.1,859.3L341.5,862.8L341.8,866.3L342.1,869.7L342.5,873.2L342.8,876.7L343.2,880.2L343.5,883.6L343.9,887.1L344.2,890.6L344.6,894.1L344.9,897.5L345.3,901.0L345.7,904.5L346.0,908.0L346.4,911.4L346.8,914.9L347.2,918.4L347.6,921.9L348.0,925.3L348.4,928.8L348.8,932.3L349.2,935.8L349.6,939.2L350.0,942.7L350.4,946.2L350.8,949.7L351.2,953.1L351.6,956.6L352.0,960.1L352.4,963.6L352.9,967.0L353.3,970.5L353.7,974.0L354.1,977.5L354.6,980.9L355.0,984.4L355.4,987.9L355.9,991.4L356.3,994.8L356.8,998.3L357.2,1001.8L357.6,1005.3L358.1,1008.8L358.5,1012.2L359.0,1015.7L359.4,1019.2L359.9,1022.7L360.4,1026.2L360.8,1029.6L361.3,1033.1L361.8,1036.6L362.3,1040.1L362.8,1043.5L363.4,1047.0L363.9,1050.5L364.5,1053.9L365.0,1057.4L365.6,1060.8L366.2,1064.3L366.8,1067.7L367.5,1071.2L368.1,1074.6L368.8,1078.0L369.5,1081.5L370.2,1084.9L370.9,1088.3L371.7,1091.7L372.4,1095.1L373.2,1098.5L374.1,1101.9L374.9,1105.3L375.8,1108.7L376.7,1112.0L377.6,1115.4L378.6,1118.8L379.6,1122.1L380.6,1125.4L381.7,1128.8L382.8,1132.1L383.9,1135.4L385.0,1138.7L386.2,1142.0L387.4,1145.3L388.7,1148.6L390.0,1151.8L391.4,1155.0L392.8,1158.2L394.3,1161.4L395.8,1164.5L397.4,1167.6L399.1,1170.6L400.9,1173.6L402.7,1176.6L404.6,1179.5L406.6,1182.3L408.7,1185.1L410.9,1187.8L413.2,1190.4L415.6,1193.0L418.1,1195.5L420.6,1197.9L423.2,1200.3L425.9,1202.6L428.6,1204.8L431.4,1207.0L434.3,1209.2L437.1,1211.2L440.0,1213.2L443.0,1215.2L445.9,1217.1L448.9,1219.0L451.9,1220.8L454.9,1222.5L457.9,1224.2L461.0,1225.9L464.1,1227.5L467.2,1229.0L470.3,1230.6L473.4,1232.0L476.6,1233.4L479.8,1234.8L483.0,1236.1L486.2,1237.4L489.5,1238.6L492.7,1239.8L496.0,1240.9L499.3,1242.0L502.6,1243.0L506.0,1244.0L509.3,1245.0L512.7,1245.9L516.0,1246.9L519.4,1247.8L522.8,1248.7L526.2,1249.6L529.6,1250.5L533.0,1251.4L536.4,1252.3L539.8,1253.2L543.2,1254.2L546.6,1255.2L550.0,1256.2L553.3,1257.3L556.7,1258.4L560.1,1259.6L563.4,1260.8L566.8,1262.0L570.1,1263.2L573.4,1264.4L576.7,1265.4L580.1,1266.3L583.4,1266.9L586.7,1267.3L590.1,1267.4L593.4,1267.2L596.8,1266.7L600.2,1266.0L603.5,1265.0L606.8,1263.8L610.2,1262.5L613.5,1260.9L616.7,1259.3L620.0,1257.6L623.2,1255.8L626.4,1253.9L629.5,1252.0L632.5,1250.2L635.5,1248.3L638.5,1246.6L641.4,1244.8L644.3,1243.1L647.1,1241.5L650.0,1239.8L653.0,1238.2L656.0,1236.6L659.1,1235.0L662.2,1233.3L665.4,1231.7L668.6,1230.0L671.8,1228.2L675.0,1226.4L678.0,1224.5L681.0,1222.5L683.9,1220.4L686.6,1218.2L689.1,1215.8L691.4,1213.2L693.5,1210.5L695.4,1207.7L697.1,1204.7L698.7,1201.7L700.2,1198.6L701.7,1195.4L703.2,1192.2L704.7,1189.0L706.2,1185.9L707.7,1182.7L709.3,1179.6L710.9,1176.5L712.6,1173.4L714.3,1170.3L715.9,1167.2L717.6,1164.1L719.3,1161.0L721.1,1158.0L722.8,1154.9L724.5,1151.8L726.2,1148.8L727.9,1145.7L729.5,1142.6L731.2,1139.5L732.8,1136.4L734.4,1133.3L736.0,1130.2L737.5,1127.1L739.0,1123.9L740.4,1120.8L741.8,1117.6L743.2,1114.4L744.5,1111.2L745.8,1107.9L747.0,1104.7L748.2,1101.4L749.3,1098.1L750.4,1094.8L751.5,1091.5L752.5,1088.2L753.5,1084.9L754.5,1081.5L755.4,1078.1L756.3,1074.8L757.2,1071.4L758.1,1068.0L758.9,1064.6L759.7,1061.2L760.5,1057.8L761.3,1054.3L762.1,1050.9L762.8,1047.5L763.5,1044.0L764.2,1040.6L764.9,1037.2L765.6,1033.7L766.3,1030.3L767.0,1026.8L767.7,1023.3L768.3,1019.9L769.0,1016.4L769.7,1013.0L770.3,1009.5L771.0,1006.1L771.7,1002.6L772.3,999.2L773.0,995.7L773.7,992.3L774.4,988.9L775.1,985.4L775.9,982.0L776.6,978.6L777.3,975.2L778.1,971.8L778.9,968.4L779.7,965.0L780.5,961.6L781.4,958.3L782.2,954.9L783.1,951.5L784.1,948.2L785.0,944.8L786.0,941.5L787.0,938.2L788.0,934.8L789.1,931.5L790.1,928.2L791.2,924.9L792.3,921.6L793.3,918.3L794.4,914.9L795.4,911.6L796.4,908.3L797.4,904.9L798.3,901.6L799.2,898.2L800.1,894.9L801.0,891.5L801.8,888.1L802.6,884.7L803.3,881.3L804.0,877.9L804.7,874.5L805.3,871.0L805.9,867.6L806.5,864.1L807.1,860.7L807.6,857.2L808.2,853.8L808.7,850.3L809.2,846.8L809.7,843.4L810.2,839.9L810.7,836.4L811.2,833.0L811.7,829.5L812.2,826.0L812.7,822.6L813.3,819.1L813.8,815.6L814.3,812.2L814.9,808.7L815.4,805.2L816.0,801.8L816.6,798.3L817.1,794.9L817.7,791.4L818.2,788.0L818.8,784.5L819.4,781.1L820.0,777.6L820.5,774.2L821.1,770.7L821.7,767.3L822.2,763.8L822.8,760.3L823.4,756.9L824.0,753.4L824.5,750.0L825.1,746.5L825.7,743.1L826.2,739.6L826.8,736.2L827.3,732.7L827.9,729.3L828.4,725.8L828.9,722.4L829.4,718.9L830.0,715.5L830.5,712.0L831.0,708.6L831.5,705.1L832.0,701.6L832.4,698.2L832.9,694.7L833.4,691.3L833.8,687.8L834.3,684.3L834.7,680.9L835.2,677.4L835.6,673.9L836.1,670.5L836.5,667.0L837.0,663.5L837.4,660.1L837.9,656.6L838.3,653.1L838.8,649.7L839.3,646.2L839.8,642.8L840.2,639.3L840.7,635.8L841.3,632.4L841.8,628.9L842.3,625.5L842.9,622.0L843.5,618.6L844.1,615.1L844.7,611.7L845.3,608.2L846.0,604.8L846.7,601.3L847.4,597.9L848.1,594.4L848.8,591.0L849.6,587.6L850.3,584.1L851.0,580.7L851.7,577.3L852.4,573.8L853.1,570.4L853.7,566.9L854.4,563.5L855.0,560.1L855.7,556.6L856.3,553.2L856.9,549.8L857.5,546.3L858.1,542.9L858.7,539.4L859.3,536.0L859.9,532.5L860.4,529.1L861.0,525.7L861.5,522.2L862.0,518.8L862.6,515.3L863.1,511.9L863.6,508.4L864.1,505.0L864.6,501.5L865.1,498.0L865.6,494.6L866.0,491.1L866.5,487.7L867.0,484.2L867.4,480.7L867.9,477.3L868.3,473.8L868.7,470.3L869.2,466.9L869.6,463.4L870.0,459.9L870.4,456.4L870.8,453.0L871.2,449.5L871.6,446.0L872.0,442.5L872.4,439.0L872.8,435.5L873.2,432.0L873.5,428.5L873.9,425.0L874.3,421.5L874.7,418.0L875.0,414.5L875.4,411.0L875.8,407.5L876.2,404.0L876.6,400.5L877.0,397.0L877.4,393.5L877.8,390.1L878.2,386.6L878.6,383.1L879.1,379.6L879.5,376.1L880.0,372.7L880.4,369.2L880.9,365.8L881.4,362.3L881.9,358.9L882.5,355.4L883.0,352.0L883.6,348.6L884.1,345.1L884.7,341.7L885.4,338.3L886.0,334.9L886.7,331.6L887.4,328.2L888.1,324.8L888.8,321.5L889.5,318.1L890.3,314.7L891.1,311.3L891.9,308.0L892.7,304.6L893.5,301.2L894.4,297.7L895.2,294.3L896.1,290.8L897.0,287.3L897.9,283.8L898.8,280.2L899.8,276.6L900.8,273.1L901.9,269.6L903.3,266.3L904.9,263.3L906.7,260.6L909.0,258.2L911.6,256.4L914.2,255.7L916.7,256.3L919.1,258.1L921.3,260.7L923.2,263.9L925.0,267.4L926.5,270.9L927.8,274.3L928.9,277.7L929.9,281.1L930.9,284.5L931.8,287.9L932.7,291.3L933.5,294.7L934.3,298.1L935.0,301.5L935.7,304.9L936.4,308.3L937.0,311.8L937.7,315.2L938.3,318.6L938.9,322.1L939.4,325.5L940.0,328.9L940.6,332.4L941.1,335.8L941.6,339.3L942.2,342.7L942.7,346.2L943.2,349.6L943.7,353.1L944.2,356.5L944.7,360.0L945.2,363.5L945.7,366.9L946.2,370.4L946.6,373.8L947.1,377.3L947.6,380.8L948.0,384.2L948.5,387.7L949.0,391.2L949.4,394.6L949.9,398.1L950.3,401.6L950.7,405.0L951.2,408.5L951.6,412.0L952.1,415.5L952.5,418.9L952.9,422.4L953.4,425.9L953.8,429.3L954.2,432.8L954.7,436.3L955.1,439.8L955.5,443.2L956.0,446.7L956.4,450.2L956.9,453.7L957.3,457.1L957.7,460.6L958.2,464.1L958.6,467.6L959.1,471.0L959.5,474.5L960.0,478.0L960.4,481.4L960.9,484.9L961.4,488.4L961.8,491.9L962.3,495.3L962.8,498.8L963.2,502.3L963.7,505.7L964.2,509.2L964.6,512.7L965.1,516.1L965.6,519.6L966.1,523.1L966.6,526.6L967.1,530.0L967.6,533.5L968.0,537.0L968.5,540.4L969.0,543.9L969.5,547.3L970.1,550.8L970.6,554.3L971.1,557.7L971.6,561.2L972.1,564.7L972.6,568.1L973.1,571.6L973.7,575.0L974.2,578.5L974.7,581.9L975.3,585.4L975.8,588.9L976.4,592.3L976.9,595.8L977.5,599.2L978.0,602.7L978.6,606.1L979.1,609.6L979.7,613.0L980.3,616.5L980.8,619.9L981.4,623.4L982.0,626.8L982.5,630.3L983.1,633.7L983.7,637.2L984.3,640.6L984.9,644.1L985.4,647.5L986.0,650.9L986.6,654.4L987.2,657.8L987.8,661.3L988.4,664.7L989.0,668.2L989.6,671.6L990.1,675.1L990.7,678.5L991.3,682.0L991.9,685.4L992.5,688.9L993.1,692.3L993.7,695.7L994.3,699.2L994.8,702.6L995.4,706.1L996.0,709.5L996.6,713.0L997.2,716.4L997.7,719.9L998.3,723.3L998.9,726.8L999.4,730.2L1000.0,733.7L1000.5,737.2L1001.1,740.6L1001.7,744.1L1002.2,747.5L1002.8,751.0L1003.3,754.5L1003.8,757.9L1004.4,761.4L1004.9,764.8L1005.4,768.3L1005.9,771.8L1006.5,775.2L1007.0,778.7L1007.5,782.2L1008.0,785.7L1008.5,789.1L1009.0,792.6L1009.5,796.1L1010.0,799.5L1010.5,803.0L1011.1,806.5L1011.6,810.0L1012.1,813.4L1012.6,816.9L1013.2,820.4L1013.7,823.8L1014.3,827.3L1014.8,830.7L1015.4,834.2L1016.0,837.6L1016.6,841.1L1017.2,844.5L1017.8,848.0L1018.4,851.4L1019.1,854.9L1019.7,858.3L1020.4,861.7L1021.1,865.1L1021.8,868.6L1022.5,872.0L1023.3,875.4L1024.0,878.8L1024.8,882.2L1025.6,885.6L1026.4,889.0L1027.3,892.4L1028.1,895.7L1029.0,899.1L1029.9,902.5L1030.9,905.8L1031.8,909.2L1032.8,912.5L1033.8,915.8L1034.8,919.2L1035.9,922.5L1036.9,925.8L1038.0,929.1L1039.1,932.4L1040.3,935.8L1041.4,939.0L1042.6,942.3L1043.7,945.6L1044.9,948.9L1046.1,952.2L1047.3,955.5L1048.6,958.8L1049.8,962.0L1051.1,965.3L1052.4,968.6L1053.6,971.8L1054.9,975.1L1056.2,978.3L1057.5,981.6L1058.9,984.8L1060.2,988.1L1061.5,991.3L1062.9,994.6L1064.2,997.8L1065.6,1001.1L1066.9,1004.3L1068.3,1007.6L1069.6,1010.8L1071.0,1014.0L1072.4,1017.3L1073.8,1020.5L1075.1,1023.7L1076.5,1027.0L1077.9,1030.2L1079.3,1033.4L1080.7,1036.7L1082.1,1039.9L1083.6,1043.0L1085.1,1046.2L1086.6,1049.3L1088.2,1052.4L1089.8,1055.5L1091.5,1058.5L1093.3,1061.5L1095.1,1064.5L1097.0,1067.3L1098.9,1070.2L1100.9,1073.0L1103.0,1075.8L1105.0,1078.6L1107.1,1081.4L1109.2,1084.2L1111.2,1087.0L1113.3,1089.9L1115.3,1092.8L1117.2,1095.7L1119.1,1098.7L1121.0,1101.7L1122.7,1104.8L1124.4,1108.0L1126.1,1111.1L1127.8,1114.3L1129.5,1117.5L1131.2,1120.6L1133.0,1123.7L1134.8,1126.7L1136.7,1129.6L1138.7,1132.5L1140.8,1135.2L1143.0,1137.9L1145.3,1140.4L1147.7,1142.9L1150.1,1145.3L1152.7,1147.6L1155.3,1149.9L1158.0,1152.0L1160.7,1154.2L1163.5,1156.2L1166.4,1158.2L1169.3,1160.2L1172.2,1162.1L1175.1,1164.0L1178.1,1165.9L1181.2,1167.7L1184.2,1169.5L1187.3,1171.3L1190.3,1173.1L1193.4,1174.8L1196.5,1176.6L1199.5,1178.4L1202.6,1180.1L1205.6,1181.9L1208.6,1183.7L1211.7,1185.5L1214.7,1187.2L1217.7,1189.0L1220.8,1190.7L1223.8,1192.4L1226.8,1194.1L1229.9,1195.8L1232.9,1197.5L1236.0,1199.1L1239.1,1200.7L1242.2,1202.2L1245.3,1203.7L1248.5,1205.2L1251.6,1206.6L1254.8,1208.0L1258.1,1209.3L1261.3,1210.6L1264.6,1211.8L1267.9,1213.0L1271.2,1214.2L1274.5,1215.3L1277.8,1216.4L1281.1,1217.4L1284.5,1218.4L1287.9,1219.4L1291.2,1220.4L1294.6,1221.4L1298.0,1222.3L1301.4,1223.2L1304.8,1224.1L1308.2,1225.0L1311.6,1225.8L1315.0,1226.7L1318.4,1227.5L1321.8,1228.3L1325.2,1229.1L1328.6,1229.9L1332.1,1230.6L1335.5,1231.4L1338.9,1232.1L1342.3,1232.8L1345.7,1233.5L1349.2,1234.2L1352.6,1234.9L1356.0,1235.5L1359.5,1236.2L1362.9,1236.8L1366.4,1237.4L1369.8,1238.0L1373.2,1238.6L1376.7,1239.2L1380.1,1239.7L1383.6,1240.3L1387.0,1240.8L1390.5,1241.4L1394.0,1241.9L1397.4,1242.4L1400.9,1242.9L1404.3,1243.3L1407.8,1243.8L1411.3,1244.3L1414.7,1244.7L1418.2,1245.1L1421.7,1245.6L1425.2,1246.0L1428.6,1246.4L1432.1,1246.8L1435.6,1247.2L1439.1,1247.5L1442.5,1247.9L1446.0,1248.3L1449.5,1248.6L1453.0,1249.0L1456.5,1249.3L1460.0,1249.6L1463.4,1249.9L1466.9,1250.2L1470.4,1250.5L1473.9,1250.8L1477.4,1251.1L1480.9,1251.4L1484.4,1251.7L1487.9,1251.9L1491.4,1252.2L1494.9,1252.4L1498.4,1252.7L1501.9,1252.9L1505.4,1253.2L1508.9,1253.4L1512.3,1253.6L1515.8,1253.8L1519.3,1254.1L1522.8,1254.3L1526.3,1254.5L1529.8,1254.7L1533.3,1254.9L1536.8,1255.1L1540.3,1255.3L1543.8,1255.5L1547.3,1255.6L1550.8,1255.8L1554.3,1256.0L1557.8,1256.2L1561.3,1256.4L1564.8,1256.5L1568.3,1256.7L1571.8,1256.9L1575.3,1257.1L1578.8,1257.2L1582.3,1257.4L1585.8,1257.5L1589.3,1257.7L1592.8,1257.9L1596.3,1258.0L1599.8,1258.2L1603.3,1258.3L1606.8,1258.5L1610.3,1258.6L1613.8,1258.8L1617.3,1258.9L1620.8,1259.1L1624.3,1259.2L1627.8,1259.3L1631.3,1259.5L1634.8,1259.6L1638.3,1259.8L1641.8,1259.9L1645.3,1260.0L1648.8,1260.1L1652.3,1260.3L1655.8,1260.4L1659.3,1260.5L1662.8,1260.6L1666.3,1260.8L1669.8,1260.9L1673.3,1261.0L1676.8,1261.1L1680.3,1261.2L1683.8,1261.3L1687.3,1261.5L1690.7,1261.6L1694.2,1261.7L1697.7,1261.8L1701.2,1261.9L1704.7,1262.0L1708.2,1262.1L1711.7,1262.2L1715.2,1262.3L1718.7,1262.4L1722.2,1262.5L1725.7,1262.6L1729.2,1262.7L1732.7,1262.8L1736.2,1262.9L1739.7,1263.0L1743.2,1263.1L1746.7,1263.1L1750.2,1263.2L1753.7,1263.3L1757.2,1263.4L1760.7,1263.5L1764.2,1263.6L1767.7,1263.7L1771.1,1263.7L1774.6,1263.8L1778.1,1263.9L1781.6,1264.0L1785.1,1264.0L1788.6,1264.1L1792.1,1264.2L1795.6,1264.3L1799.1,1264.3L1802.6,1264.4L1806.1,1264.5L1809.6,1264.6L1813.1,1264.6L1816.6,1264.7L1820.1,1264.8L1823.6,1264.8L1827.1,1264.9L1830.6,1264.9L1834.1,1265.0L1837.6,1265.1L1841.1,1265.1L1844.6,1265.2L1848.0,1265.3L1851.5,1265.3L1855.0,1265.4L1858.5,1265.4L1862.0,1265.5L1865.5,1265.5L1869.0,1265.6L1872.5,1265.7L1876.0,1265.7L1879.5,1265.8L1883.0,1265.8L1886.5,1265.9L1890.0,1265.9L1893.5,1266.0L1897.0,1266.0L1900.5,1266.1L1904.0,1266.1L1907.5,1266.2L1911.0,1266.2L1914.5,1266.3L1918.0,1266.3L1921.5,1266.4L1925.0,1266.4L1928.5,1266.5L1932.0,1266.5L1935.5,1266.6L1939.0,1266.6L1942.5,1266.7L1946.0,1266.7L1949.5,1266.8L1953.0,1266.8L1956.5,1266.8L1960.0,1266.9L1963.5,1266.9L1967.0,1267.0L1970.5,1267.0L1974.0,1267.1L1977.4,1267.1L1980.9,1267.2L1984.4,1267.2L1987.9,1267.2L1991.4,1267.3L1994.9,1267.3L1998.4,1267.4L2001.9,1267.4L2005.4,1267.5L2008.9,1267.5L2012.4,1267.5L2015.9,1267.6L2019.5,1267.6L2023.0,1267.7L2026.5,1267.7L2030.0,1267.8L2033.5,1267.8L2037.0,1267.9L2040.5,1267.9L2044.0,1267.9L2047.5,1268.0L2051.0,1268.0L2054.5,1268.1L2058.0,1268.1L2061.5,1268.2L2065.0,1268.2L2068.5,1268.3L2072.0,1268.3L2075.5,1268.4L2079.0,1268.4L2082.5,1268.5L2086.0,1268.5" stroke="#0208e4"/>
<path d="M315.0,702.0L315.2,705.5L315.4,709.0L315.6,712.5L315.8,716.0L316.0,719.5L316.3,723.0L316.5,726.5L316.7,730.0L316.9,733.5L317.1,737.0L317.3,740.5L317.6,744.0L317.8,747.5L318.0,751.0L318.3,754.5L318.5,758.0L318.7,761.5L319.0,765.0L319.2,768.5L319.5,772.0L319.7,775.5L320.0,779.0L320.3,782.4L320.5,785.9L320.8,789.4L321.0,792.9L321.3,796.4L321.6,799.9L321.9,803.4L322.1,806.8L322.4,810.3L322.7,813.8L323.0,817.3L323.3,820.8L323.6,824.2L323.9,827.7L324.2,831.2L324.5,834.7L324.8,838.2L325.1,841.6L325.5,845.1L325.8,848.6L326.1,852.1L326.4,855.5L326.8,859.0L327.1,862.5L327.4,866.0L327.8,869.4L328.1,872.9L328.5,876.4L328.9,879.9L329.2,883.3L329.6,886.8L330.0,890.3L330.3,893.7L330.7,897.2L331.1,900.7L331.5,904.1L331.9,907.6L332.3,911.1L332.7,914.6L333.1,918.0L333.5,921.5L333.9,925.0L334.3,928.4L334.7,931.9L335.2,935.4L335.6,938.8L336.0,942.3L336.5,945.8L336.9,949.2L337.4,952.7L337.8,956.2L338.3,959.6L338.8,963.1L339.2,966.6L339.7,970.0L340.2,973.5L340.7,977.0L341.2,980.4L341.7,983.9L342.2,987.4L342.7,990.8L343.2,994.3L343.7,997.8L344.3,1001.2L344.8,1004.7L345.3,1008.2L345.9,1011.6L346.4,1015.1L347.0,1018.6L347.5,1022.0L348.1,1025.5L348.7,1029.0L349.2,1032.4L349.8,1035.9L350.4,1039.4L351.0,1042.8L351.6,1046.3L352.2,1049.8L352.8,1053.2L353.4,1056.7L354.1,1060.2L354.7,1063.6L355.4,1067.1L356.0,1070.6L356.7,1074.0L357.4,1077.5L358.1,1080.9L358.8,1084.4L359.5,1087.8L360.3,1091.2L361.1,1094.7L361.9,1098.1L362.7,1101.5L363.6,1104.9L364.4,1108.3L365.4,1111.6L366.3,1115.0L367.3,1118.3L368.2,1121.7L369.3,1125.0L370.3,1128.3L371.4,1131.6L372.6,1134.9L373.7,1138.2L375.0,1141.4L376.2,1144.7L377.5,1147.9L378.8,1151.1L380.2,1154.2L381.7,1157.4L383.1,1160.5L384.6,1163.7L386.2,1166.7L387.8,1169.8L389.5,1172.9L391.2,1175.9L392.9,1178.9L394.7,1181.9L396.5,1184.9L398.3,1187.9L400.2,1190.8L402.1,1193.7L404.1,1196.6L406.1,1199.5L408.1,1202.4L410.1,1205.3L412.2,1208.1L414.3,1210.9L416.4,1213.7L418.6,1216.5L420.7,1219.3L422.9,1222.1L425.1,1224.8L427.4,1227.6L429.6,1230.3L431.9,1233.0L434.2,1235.6L436.6,1238.2L438.9,1240.7L441.4,1243.2L443.8,1245.7L446.4,1248.0L448.9,1250.3L451.6,1252.4L454.3,1254.5L457.1,1256.4L460.1,1258.2L463.1,1259.9L466.2,1261.4L469.3,1262.8L472.6,1264.1L475.9,1265.2L479.3,1266.2L482.8,1267.1L486.3,1268.0L489.8,1268.7L493.3,1269.4L496.8,1269.9L500.3,1270.5L503.8,1270.9L507.3,1271.4L510.8,1271.7L514.3,1272.1L517.8,1272.4L521.2,1272.7L524.7,1273.0L528.2,1273.2L531.6,1273.5L535.0,1273.8L538.5,1274.0L541.9,1274.3L545.4,1274.6L548.8,1274.9L552.3,1275.2L555.7,1275.6L559.2,1276.0L562.7,1276.5L566.1,1277.0L569.6,1277.6L573.1,1278.3L576.6,1279.0L580.1,1279.7L583.6,1280.5L587.1,1281.1L590.5,1281.4L593.8,1281.4L596.9,1280.8L599.9,1279.7L602.7,1277.8L605.3,1275.5L607.8,1272.8L610.2,1269.8L612.5,1266.8L614.7,1263.9L616.8,1261.1L618.9,1258.3L620.9,1255.5L622.9,1252.7L625.0,1250.0L627.0,1247.2L629.0,1244.4L631.1,1241.6L633.2,1238.8L635.3,1235.9L637.4,1233.1L639.5,1230.3L641.6,1227.5L643.7,1224.7L645.8,1222.0L647.9,1219.2L650.0,1216.4L652.0,1213.5L654.0,1210.7L656.0,1207.8L657.9,1204.9L659.8,1201.9L661.7,1198.9L663.5,1195.8L665.3,1192.8L667.2,1189.8L669.2,1186.9L671.3,1184.1L673.7,1181.6L676.3,1179.3L679.3,1177.3L682.5,1175.5L685.7,1173.8L688.8,1172.1L691.6,1170.1L694.2,1167.9L696.4,1165.4L698.3,1162.8L699.9,1159.9L701.4,1156.9L702.6,1153.7L703.7,1150.4L704.7,1147.0L705.6,1143.6L706.5,1140.1L707.3,1136.6L708.2,1133.2L709.1,1129.7L710.1,1126.3L711.0,1123.0L712.1,1119.6L713.1,1116.3L714.2,1113.0L715.4,1109.7L716.6,1106.4L717.8,1103.1L719.0,1099.9L720.3,1096.7L721.6,1093.4L722.9,1090.2L724.3,1087.0L725.7,1083.8L727.1,1080.6L728.5,1077.4L729.9,1074.1L731.4,1070.9L732.8,1067.7L734.1,1064.4L735.4,1061.2L736.6,1057.9L737.7,1054.6L738.7,1051.3L739.6,1047.9L740.5,1044.5L741.2,1041.1L741.9,1037.7L742.4,1034.2L743.0,1030.8L743.5,1027.3L743.9,1023.8L744.3,1020.4L744.7,1016.9L745.1,1013.4L745.5,1009.9L745.9,1006.4L746.2,1002.9L746.6,999.4L747.0,995.9L747.5,992.4L747.9,988.9L748.4,985.5L748.9,982.0L749.4,978.5L750.0,975.1L750.5,971.6L751.1,968.2L751.6,964.7L752.2,961.3L752.8,957.8L753.4,954.4L754.0,950.9L754.6,947.5L755.2,944.0L755.9,940.6L756.5,937.2L757.1,933.7L757.7,930.3L758.3,926.8L759.0,923.4L759.6,919.9L760.2,916.5L760.8,913.1L761.4,909.6L762.0,906.2L762.7,902.7L763.3,899.3L763.9,895.8L764.5,892.4L765.1,889.0L765.7,885.5L766.3,882.1L766.9,878.6L767.5,875.2L768.2,871.7L768.8,868.3L769.4,864.8L770.0,861.4L770.6,858.0L771.2,854.5L771.8,851.1L772.4,847.6L773.0,844.2L773.6,840.7L774.2,837.3L774.8,833.8L775.4,830.4L776.0,826.9L776.6,823.5L777.1,820.0L777.7,816.6L778.3,813.1L778.9,809.7L779.5,806.2L780.1,802.8L780.6,799.3L781.2,795.9L781.8,792.4L782.4,789.0L782.9,785.5L783.5,782.1L784.1,778.6L784.6,775.2L785.2,771.7L785.8,768.2L786.3,764.8L786.9,761.3L787.4,757.9L788.0,754.4L788.5,751.0L789.1,747.5L789.6,744.1L790.2,740.6L790.7,737.1L791.3,733.7L791.8,730.2L792.3,726.8L792.8,723.3L793.4,719.8L793.9,716.4L794.4,712.9L794.9,709.5L795.4,706.0L796.0,702.5L796.5,699.1L797.0,695.6L797.5,692.2L798.0,688.7L798.5,685.2L799.0,681.8L799.4,678.3L799.9,674.8L800.4,671.4L800.9,667.9L801.4,664.4L801.8,661.0L802.3,657.5L802.8,654.0L803.2,650.6L803.7,647.1L804.1,643.6L804.6,640.2L805.0,636.7L805.5,633.2L805.9,629.8L806.4,626.3L806.8,622.8L807.2,619.4L807.7,615.9L808.1,612.4L808.5,608.9L808.9,605.5L809.3,602.0L809.8,598.5L810.2,595.0L810.6,591.6L811.0,588.1L811.4,584.6L811.8,581.1L812.2,577.7L812.5,574.2L812.9,570.7L813.3,567.2L813.7,563.8L814.1,560.3L814.4,556.8L814.8,553.3L815.2,549.9L815.6,546.4L815.9,542.9L816.3,539.4L816.6,535.9L817.0,532.5L817.3,529.0L817.7,525.5L818.0,522.0L818.4,518.5L818.7,515.1L819.1,511.6L819.4,508.1L819.7,504.6L820.1,501.1L820.4,497.6L820.7,494.2L821.0,490.7L821.3,487.2L821.7,483.7L822.0,480.2L822.3,476.7L822.6,473.3L822.9,469.8L823.2,466.3L823.5,462.8L823.8,459.3L824.1,455.8L824.4,452.3L824.7,448.8L825.0,445.4L825.3,441.9L825.5,438.4L825.8,434.9L826.1,431.4L826.4,427.9L826.6,424.4L826.9,420.9L827.2,417.4L827.5,414.0L827.7,410.5L828.0,407.0L828.2,403.5L828.5,400.0L828.8,396.5L829.0,393.0L829.3,389.5L829.5,386.0L829.8,382.5L830.0,379.0L830.3,375.5L830.5,372.1L830.7,368.6L831.0,365.1L831.2,361.6L831.4,358.1L831.7,354.6L831.9,351.1L832.1,347.6L832.4,344.1L832.6,340.6L832.8,337.1L833.1,333.6L833.3,330.1L833.5,326.6L833.8,323.1L834.0,319.7L834.2,316.2L834.5,312.7L834.7,309.2L834.9,305.7L835.1,302.2L835.4,298.7L835.6,295.2L835.9,291.7L836.1,288.2L836.3,284.7L836.6,281.3L836.8,277.8L837.1,274.3L837.3,270.8L837.6,267.3L837.8,263.8L838.1,260.3L838.3,256.9L838.6,253.4L838.8,249.9L839.1,246.4L839.4,242.9L839.7,239.5L839.9,236.0L840.2,232.5L840.5,229.0L840.8,225.5L841.1,222.1L841.4,218.6L841.7,215.1L842.0,211.7L842.3,208.2L842.6,204.7L842.9,201.3L843.2,197.8L843.6,194.3L843.9,190.9L844.2,187.4L844.6,183.9L844.9,180.5L845.3,177.0L845.7,173.6L846.0,170.1L846.4,166.6L846.8,163.2L847.2,159.7L847.7,156.2L848.1,152.7L848.6,149.2L849.0,145.6L849.6,142.1L850.1,138.5L850.6,134.9L851.2,131.3L851.8,127.6L852.6,124.0L853.5,120.5L854.8,117.3L856.6,114.4L859.0,112.0L861.9,110.3L864.9,109.6L867.6,110.4L869.8,112.4L871.6,115.1L873.0,118.1L874.0,121.3L874.9,124.7L875.6,128.2L876.3,131.6L877.0,135.1L877.6,138.6L878.3,142.1L878.9,145.6L879.5,149.1L880.1,152.5L880.7,156.0L881.3,159.5L881.9,163.0L882.5,166.5L883.1,169.9L883.6,173.4L884.2,176.9L884.7,180.4L885.2,183.9L885.8,187.3L886.3,190.8L886.8,194.3L887.3,197.8L887.8,201.2L888.3,204.7L888.8,208.2L889.3,211.7L889.7,215.1L890.2,218.6L890.7,222.1L891.1,225.6L891.6,229.0L892.0,232.5L892.5,236.0L892.9,239.4L893.3,242.9L893.7,246.4L894.2,249.9L894.6,253.3L895.0,256.8L895.4,260.3L895.8,263.8L896.2,267.2L896.6,270.7L897.0,274.2L897.4,277.6L897.8,281.1L898.2,284.6L898.5,288.1L898.9,291.5L899.3,295.0L899.7,298.5L900.1,301.9L900.4,305.4L900.8,308.9L901.2,312.3L901.5,315.8L901.9,319.3L902.3,322.8L902.7,326.2L903.0,329.7L903.4,333.2L903.8,336.6L904.1,340.1L904.5,343.6L904.9,347.1L905.2,350.5L905.6,354.0L906.0,357.5L906.4,361.0L906.7,364.4L907.1,367.9L907.5,371.4L907.9,374.8L908.3,378.3L908.6,381.8L909.0,385.3L909.4,388.7L909.8,392.2L910.2,395.7L910.6,399.2L911.0,402.6L911.4,406.1L911.8,409.6L912.1,413.1L912.5,416.5L912.9,420.0L913.3,423.5L913.7,427.0L914.1,430.4L914.5,433.9L914.9,437.4L915.4,440.9L915.8,444.4L916.2,447.8L916.6,451.3L917.0,454.8L917.4,458.3L917.8,461.7L918.2,465.2L918.6,468.7L919.0,472.2L919.5,475.6L919.9,479.1L920.3,482.6L920.7,486.1L921.1,489.6L921.5,493.0L922.0,496.5L922.4,500.0L922.8,503.5L923.2,506.9L923.6,510.4L924.1,513.9L924.5,517.4L924.9,520.8L925.3,524.3L925.8,527.8L926.2,531.3L926.6,534.8L927.0,538.2L927.5,541.7L927.9,545.2L928.3,548.7L928.7,552.1L929.2,555.6L929.6,559.1L930.0,562.6L930.5,566.0L930.9,569.5L931.3,573.0L931.7,576.5L932.2,579.9L932.6,583.4L933.0,586.9L933.5,590.4L933.9,593.8L934.3,597.3L934.8,600.8L935.2,604.3L935.6,607.7L936.1,611.2L936.5,614.7L936.9,618.2L937.3,621.6L937.8,625.1L938.2,628.6L938.6,632.1L939.1,635.5L939.5,639.0L939.9,642.5L940.4,646.0L940.8,649.4L941.2,652.9L941.7,656.4L942.1,659.8L942.5,663.3L943.0,666.8L943.4,670.2L943.8,673.7L944.3,677.2L944.7,680.6L945.2,684.1L945.6,687.6L946.1,691.0L946.6,694.5L947.1,698.0L947.5,701.4L948.0,704.9L948.5,708.3L949.0,711.8L949.5,715.3L950.1,718.7L950.6,722.2L951.2,725.6L951.7,729.1L952.3,732.5L952.9,736.0L953.5,739.4L954.1,742.8L954.7,746.3L955.3,749.7L956.0,753.1L956.6,756.6L957.3,760.0L958.0,763.4L958.7,766.9L959.4,770.3L960.2,773.7L960.9,777.1L961.7,780.5L962.4,784.0L963.2,787.4L964.0,790.8L964.8,794.2L965.6,797.6L966.4,801.0L967.2,804.4L968.0,807.8L968.9,811.2L969.7,814.6L970.5,818.0L971.4,821.4L972.2,824.8L973.1,828.2L974.0,831.6L974.8,835.0L975.7,838.4L976.6,841.8L977.4,845.2L978.3,848.6L979.2,852.0L980.1,855.3L981.0,858.7L981.8,862.1L982.7,865.5L983.6,868.9L984.5,872.3L985.4,875.7L986.2,879.0L987.1,882.4L988.0,885.8L988.9,889.2L989.7,892.6L990.6,896.0L991.5,899.3L992.4,902.7L993.2,906.1L994.1,909.5L995.0,912.9L995.9,916.3L996.7,919.7L997.6,923.0L998.4,926.4L999.3,929.8L1000.2,933.2L1001.0,936.6L1001.9,940.0L1002.7,943.4L1003.6,946.8L1004.4,950.2L1005.2,953.6L1006.1,957.0L1006.9,960.4L1007.7,963.8L1008.6,967.2L1009.4,970.6L1010.3,974.0L1011.1,977.4L1012.0,980.8L1012.8,984.2L1013.7,987.6L1014.6,991.0L1015.5,994.4L1016.4,997.7L1017.3,1001.1L1018.3,1004.5L1019.2,1007.8L1020.2,1011.2L1021.2,1014.5L1022.2,1017.9L1023.2,1021.2L1024.2,1024.6L1025.3,1027.9L1026.4,1031.2L1027.5,1034.5L1028.6,1037.9L1029.7,1041.2L1030.8,1044.5L1032.0,1047.8L1033.2,1051.0L1034.4,1054.3L1035.6,1057.6L1036.9,1060.9L1038.1,1064.2L1039.4,1067.4L1040.7,1070.7L1042.1,1073.9L1043.4,1077.2L1044.8,1080.4L1046.2,1083.6L1047.6,1086.9L1049.0,1090.1L1050.5,1093.3L1052.1,1096.4L1053.7,1099.5L1055.4,1102.5L1057.3,1105.4L1059.3,1108.2L1061.5,1110.9L1063.8,1113.4L1066.3,1115.8L1068.8,1118.1L1071.4,1120.4L1074.1,1122.7L1076.7,1124.9L1079.4,1127.2L1082.0,1129.4L1084.7,1131.6L1087.4,1133.9L1090.2,1136.1L1092.9,1138.3L1095.6,1140.4L1098.4,1142.6L1101.2,1144.8L1104.0,1146.9L1106.8,1149.1L1109.6,1151.2L1112.4,1153.3L1115.3,1155.4L1118.1,1157.4L1121.0,1159.5L1123.9,1161.5L1126.8,1163.5L1129.7,1165.5L1132.6,1167.5L1135.6,1169.4L1138.5,1171.4L1141.5,1173.3L1144.5,1175.2L1147.4,1177.1L1150.4,1178.9L1153.5,1180.7L1156.5,1182.5L1159.5,1184.3L1162.6,1186.1L1165.6,1187.8L1168.7,1189.5L1171.8,1191.2L1174.9,1192.8L1178.0,1194.4L1181.1,1196.0L1184.2,1197.6L1187.4,1199.1L1190.5,1200.6L1193.7,1202.1L1196.9,1203.5L1200.1,1204.9L1203.3,1206.3L1206.5,1207.6L1209.7,1208.9L1212.9,1210.2L1216.2,1211.5L1219.4,1212.7L1222.7,1213.9L1226.0,1215.1L1229.3,1216.2L1232.5,1217.3L1235.8,1218.4L1239.2,1219.4L1242.5,1220.5L1245.8,1221.5L1249.1,1222.4L1252.5,1223.4L1255.8,1224.3L1259.2,1225.2L1262.5,1226.1L1265.9,1227.0L1269.3,1227.8L1272.7,1228.6L1276.1,1229.4L1279.5,1230.2L1282.9,1230.9L1286.3,1231.7L1289.7,1232.4L1293.1,1233.1L1296.5,1233.8L1300.0,1234.4L1303.4,1235.1L1306.9,1235.7L1310.3,1236.3L1313.7,1236.9L1317.2,1237.5L1320.7,1238.0L1324.1,1238.6L1327.6,1239.1L1331.1,1239.7L1334.5,1240.2L1338.0,1240.7L1341.5,1241.2L1344.9,1241.6L1348.4,1242.1L1351.9,1242.6L1355.4,1243.0L1358.9,1243.5L1362.4,1243.9L1365.9,1244.3L1369.3,1244.7L1372.8,1245.2L1376.3,1245.6L1379.8,1246.0L1383.3,1246.4L1386.8,1246.7L1390.3,1247.1L1393.8,1247.5L1397.3,1247.9L1400.8,1248.2L1404.2,1248.6L1407.7,1249.0L1411.2,1249.3L1414.7,1249.7L1418.2,1250.0L1421.7,1250.4L1425.2,1250.7L1428.7,1251.0L1432.2,1251.3L1435.7,1251.7L1439.2,1252.0L1442.6,1252.3L1446.1,1252.6L1449.6,1252.9L1453.1,1253.2L1456.6,1253.5L1460.1,1253.8L1463.6,1254.1L1467.1,1254.3L1470.6,1254.6L1474.1,1254.9L1477.6,1255.2L1481.0,1255.4L1484.5,1255.7L1488.0,1255.9L1491.5,1256.2L1495.0,1256.4L1498.5,1256.7L1502.0,1256.9L1505.5,1257.1L1509.0,1257.4L1512.5,1257.6L1516.0,1257.8L1519.5,1258.0L1523.0,1258.3L1526.4,1258.5L1529.9,1258.7L1533.4,1258.9L1536.9,1259.1L1540.4,1259.3L1543.9,1259.5L1547.4,1259.7L1550.9,1259.9L1554.4,1260.1L1557.9,1260.2L1561.4,1260.4L1564.9,1260.6L1568.4,1260.8L1571.9,1260.9L1575.3,1261.1L1578.8,1261.3L1582.3,1261.4L1585.8,1261.6L1589.3,1261.7L1592.8,1261.9L1596.3,1262.0L1599.8,1262.2L1603.3,1262.3L1606.8,1262.4L1610.3,1262.6L1613.8,1262.7L1617.3,1262.8L1620.8,1263.0L1624.3,1263.1L1627.8,1263.2L1631.2,1263.3L1634.7,1263.5L1638.2,1263.6L1641.7,1263.7L1645.2,1263.8L1648.7,1263.9L1652.2,1264.0L1655.7,1264.1L1659.2,1264.2L1662.7,1264.3L1666.2,1264.4L1669.7,1264.5L1673.2,1264.6L1676.7,1264.7L1680.2,1264.8L1683.7,1264.9L1687.2,1265.0L1690.7,1265.1L1694.2,1265.1L1697.6,1265.2L1701.1,1265.3L1704.6,1265.4L1708.1,1265.4L1711.6,1265.5L1715.1,1265.6L1718.6,1265.7L1722.1,1265.7L1725.6,1265.8L1729.1,1265.9L1732.6,1265.9L1736.1,1266.0L1739.6,1266.1L1743.1,1266.1L1746.6,1266.2L1750.1,1266.2L1753.6,1266.3L1757.1,1266.3L1760.6,1266.4L1764.1,1266.5L1767.6,1266.5L1771.1,1266.6L1774.6,1266.6L1778.1,1266.7L1781.6,1266.7L1785.0,1266.8L1788.5,1266.8L1792.0,1266.8L1795.5,1266.9L1799.0,1266.9L1802.5,1267.0L1806.0,1267.0L1809.5,1267.1L1813.0,1267.1L1816.5,1267.2L1820.0,1267.2L1823.5,1267.2L1827.0,1267.3L1830.5,1267.3L1834.0,1267.4L1837.5,1267.4L1841.0,1267.4L1844.5,1267.5L1848.0,1267.5L1851.5,1267.6L1855.0,1267.6L1858.5,1267.6L1862.0,1267.7L1865.5,1267.7L1869.0,1267.8L1872.5,1267.8L1876.0,1267.8L1879.5,1267.9L1883.0,1267.9L1886.5,1268.0L1890.0,1268.0L1893.5,1268.0L1897.0,1268.1L1900.5,1268.1L1904.0,1268.2L1907.5,1268.2L1911.0,1268.3L1914.5,1268.3L1918.0,1268.4L1921.5,1268.4L1925.0,1268.4L1928.5,1268.5L1932.0,1268.5L1935.5,1268.6L1939.0,1268.6L1942.5,1268.7L1946.0,1268.7L1949.5,1268.8L1953.0,1268.8L1956.5,1268.9L1960.0,1269.0L1963.5,1269.0L1967.0,1269.1L1970.5,1269.1L1974.0,1269.2L1977.5,1269.3L1981.0,1269.3L1984.5,1269.4L1988.0,1269.4L1991.5,1269.5L1995.0,1269.6L1998.5,1269.6L2002.0,1269.7L2005.5,1269.8L2009.0,1269.9L2012.5,1269.9L2016.0,1270.0L2019.5,1270.1L2023.0,1270.2L2026.5,1270.3L2030.0,1270.4L2033.5,1270.4L2037.0,1270.5L2040.5,1270.6L2044.0,1270.7L2047.5,1270.8L2051.0,1270.9L2054.5,1271.0L2058.0,1271.1L2061.5,1271.2L2065.0,1271.3L2068.5,1271.4L2072.0,1271.5L2075.5,1271.7L2079.0,1271.8L2082.5,1271.9L2086.0,1272.0" stroke="#177a7a"/>
<path d="M315.0,813.0L315.3,816.5L315.6,820.0L315.9,823.4L316.2,826.9L316.5,830.4L316.7,833.9L317.0,837.4L317.3,840.9L317.6,844.3L317.9,847.8L318.2,851.3L318.5,854.8L318.8,858.3L319.1,861.8L319.4,865.2L319.7,868.7L320.0,872.2L320.3,875.7L320.6,879.2L320.9,882.7L321.2,886.2L321.5,889.7L321.8,893.1L322.1,896.6L322.5,900.1L322.8,903.6L323.1,907.1L323.5,910.6L323.8,914.0L324.1,917.5L324.5,921.0L324.8,924.5L325.2,928.0L325.6,931.5L325.9,934.9L326.3,938.4L326.7,941.9L327.1,945.4L327.5,948.8L327.9,952.3L328.3,955.8L328.7,959.3L329.2,962.7L329.6,966.2L330.1,969.7L330.5,973.1L331.0,976.6L331.4,980.1L331.9,983.5L332.4,987.0L332.9,990.4L333.4,993.9L334.0,997.3L334.5,1000.8L335.0,1004.2L335.6,1007.7L336.2,1011.1L336.7,1014.6L337.3,1018.0L337.9,1021.5L338.5,1024.9L339.2,1028.3L339.8,1031.8L340.5,1035.2L341.1,1038.6L341.8,1042.1L342.5,1045.5L343.2,1048.9L343.9,1052.3L344.6,1055.7L345.4,1059.1L346.2,1062.5L346.9,1066.0L347.7,1069.4L348.5,1072.8L349.4,1076.2L350.2,1079.5L351.1,1082.9L351.9,1086.3L352.8,1089.7L353.7,1093.1L354.7,1096.5L355.6,1099.8L356.6,1103.2L357.5,1106.6L358.5,1109.9L359.5,1113.3L360.6,1116.6L361.6,1120.0L362.7,1123.3L363.8,1126.7L364.9,1130.0L366.0,1133.4L367.2,1136.7L368.4,1140.0L369.5,1143.3L370.8,1146.6L372.0,1149.9L373.3,1153.2L374.6,1156.5L376.0,1159.7L377.4,1162.9L378.8,1166.1L380.3,1169.3L381.9,1172.4L383.5,1175.5L385.1,1178.5L386.9,1181.5L388.6,1184.5L390.5,1187.4L392.4,1190.3L394.4,1193.1L396.5,1195.9L398.6,1198.6L400.8,1201.3L403.1,1203.9L405.5,1206.4L407.9,1208.9L410.4,1211.3L413.0,1213.6L415.7,1215.9L418.4,1218.1L421.2,1220.3L424.0,1222.3L426.9,1224.3L429.8,1226.3L432.8,1228.2L435.9,1230.0L438.9,1231.7L442.1,1233.4L445.2,1234.9L448.4,1236.5L451.6,1237.9L454.9,1239.3L458.1,1240.5L461.4,1241.8L464.8,1242.9L468.1,1244.0L471.4,1244.9L474.8,1245.9L478.2,1246.8L481.6,1247.6L484.9,1248.4L488.3,1249.1L491.7,1249.8L495.1,1250.5L498.5,1251.2L501.9,1251.9L505.3,1252.6L508.7,1253.2L512.1,1253.9L515.5,1254.5L519.0,1255.1L522.4,1255.7L525.8,1256.3L529.2,1256.9L532.7,1257.5L536.1,1258.0L539.6,1258.6L543.1,1259.1L546.6,1259.6L550.2,1260.0L553.7,1260.5L557.3,1260.9L560.9,1261.2L564.5,1261.5L568.1,1261.7L571.6,1261.7L575.1,1261.5L578.5,1261.2L581.9,1260.6L585.2,1259.7L588.3,1258.6L591.4,1257.1L594.3,1255.3L597.1,1253.3L599.9,1251.1L602.6,1248.9L605.3,1246.6L607.9,1244.3L610.5,1241.9L613.0,1239.4L615.5,1236.8L617.9,1234.2L620.2,1231.6L622.5,1228.9L624.7,1226.2L626.8,1223.4L628.8,1220.5L630.8,1217.6L632.7,1214.7L634.5,1211.8L636.2,1208.8L637.9,1205.7L639.6,1202.7L641.1,1199.6L642.7,1196.5L644.2,1193.3L645.6,1190.2L647.0,1187.0L648.4,1183.8L649.8,1180.6L651.1,1177.3L652.5,1174.1L653.8,1170.8L655.1,1167.6L656.4,1164.3L657.7,1161.1L659.0,1157.8L660.4,1154.6L661.7,1151.3L663.1,1148.1L664.5,1144.9L665.9,1141.7L667.4,1138.5L668.9,1135.3L670.4,1132.1L671.9,1129.0L673.4,1125.8L674.9,1122.6L676.4,1119.5L677.9,1116.3L679.3,1113.1L680.8,1109.9L682.1,1106.7L683.5,1103.5L684.7,1100.3L685.9,1097.0L687.1,1093.8L688.2,1090.5L689.2,1087.1L690.2,1083.8L691.1,1080.5L692.1,1077.1L692.9,1073.7L693.8,1070.3L694.6,1066.9L695.4,1063.5L696.2,1060.1L697.0,1056.7L697.8,1053.3L698.6,1049.9L699.4,1046.5L700.2,1043.1L701.0,1039.7L701.9,1036.3L702.7,1032.9L703.5,1029.5L704.4,1026.1L705.2,1022.7L706.1,1019.3L706.9,1015.9L707.8,1012.5L708.7,1009.1L709.5,1005.7L710.4,1002.3L711.2,998.9L712.1,995.5L713.0,992.1L713.8,988.7L714.7,985.3L715.5,981.9L716.4,978.5L717.2,975.1L718.1,971.7L718.9,968.3L719.8,964.9L720.6,961.5L721.4,958.1L722.2,954.7L723.0,951.3L723.8,947.9L724.6,944.5L725.4,941.1L726.2,937.7L726.9,934.3L727.7,930.9L728.4,927.5L729.2,924.0L729.9,920.6L730.6,917.2L731.3,913.8L731.9,910.3L732.6,906.9L733.2,903.5L733.8,900.1L734.4,896.6L735.0,893.2L735.6,889.7L736.2,886.3L736.7,882.8L737.2,879.4L737.7,875.9L738.3,872.5L738.7,869.0L739.2,865.6L739.7,862.1L740.2,858.7L740.6,855.2L741.0,851.7L741.5,848.3L741.9,844.8L742.3,841.3L742.7,837.9L743.1,834.4L743.6,830.9L744.0,827.5L744.4,824.0L744.7,820.5L745.1,817.0L745.5,813.6L745.9,810.1L746.3,806.6L746.7,803.2L747.1,799.7L747.5,796.2L747.9,792.7L748.3,789.3L748.7,785.8L749.1,782.3L749.5,778.8L749.9,775.4L750.3,771.9L750.6,768.4L751.0,764.9L751.4,761.5L751.8,758.0L752.2,754.5L752.6,751.0L752.9,747.6L753.3,744.1L753.7,740.6L754.0,737.1L754.4,733.7L754.7,730.2L755.1,726.7L755.4,723.2L755.8,719.7L756.1,716.3L756.4,712.8L756.8,709.3L757.1,705.8L757.4,702.3L757.7,698.8L758.1,695.4L758.4,691.9L758.7,688.4L759.0,684.9L759.3,681.4L759.6,677.9L759.9,674.5L760.2,671.0L760.5,667.5L760.7,664.0L761.0,660.5L761.3,657.0L761.6,653.5L761.9,650.0L762.1,646.6L762.4,643.1L762.7,639.6L762.9,636.1L763.2,632.6L763.4,629.1L763.7,625.6L763.9,622.1L764.2,618.6L764.4,615.2L764.7,611.7L764.9,608.2L765.2,604.7L765.4,601.2L765.6,597.7L765.9,594.2L766.1,590.7L766.3,587.2L766.6,583.7L766.8,580.3L767.0,576.8L767.2,573.3L767.5,569.8L767.7,566.3L767.9,562.8L768.1,559.3L768.3,555.8L768.5,552.3L768.7,548.8L769.0,545.4L769.2,541.9L769.4,538.4L769.6,534.9L769.8,531.4L770.0,527.9L770.2,524.4L770.4,520.9L770.6,517.4L770.8,514.0L771.0,510.5L771.3,507.0L771.5,503.5L771.7,500.0L771.9,496.5L772.1,493.0L772.3,489.5L772.6,486.1L772.8,482.6L773.0,479.1L773.2,475.6L773.5,472.1L773.7,468.6L773.9,465.1L774.2,461.7L774.4,458.2L774.7,454.7L774.9,451.2L775.2,447.7L775.4,444.2L775.7,440.7L776.0,437.3L776.2,433.8L776.5,430.3L776.8,426.8L777.1,423.3L777.4,419.9L777.7,416.4L778.0,412.9L778.3,409.4L778.6,406.0L778.9,402.5L779.3,399.0L779.6,395.5L780.0,392.0L780.3,388.6L780.7,385.1L781.0,381.6L781.4,378.1L781.8,374.7L782.2,371.2L782.6,367.7L783.0,364.3L783.4,360.8L783.8,357.3L784.3,353.9L784.7,350.4L785.1,346.9L785.6,343.5L786.1,340.0L786.6,336.5L787.0,333.1L787.5,329.6L788.0,326.1L788.6,322.7L789.1,319.2L789.6,315.7L790.2,312.3L790.7,308.8L791.3,305.4L791.8,301.9L792.4,298.5L793.0,295.0L793.6,291.5L794.1,288.1L794.7,284.6L795.3,281.2L795.9,277.7L796.5,274.3L797.1,270.8L797.7,267.4L798.3,263.9L798.9,260.5L799.4,257.0L800.0,253.6L800.6,250.1L801.2,246.7L801.8,243.2L802.3,239.8L802.9,236.3L803.4,232.9L804.0,229.5L804.5,226.0L805.1,222.6L805.6,219.1L806.1,215.7L806.6,212.3L807.1,208.8L807.6,205.4L808.1,201.9L808.5,198.5L809.0,195.1L809.4,191.6L809.9,188.2L810.3,184.8L810.7,181.3L811.1,177.9L811.4,174.5L811.8,171.0L812.2,167.6L812.6,164.1L813.1,160.7L813.5,157.2L814.0,153.7L814.5,150.3L815.0,146.8L815.6,143.3L816.2,139.8L816.8,136.3L817.5,132.8L818.3,129.2L819.1,125.7L820.0,122.1L820.9,118.5L822.0,115.0L823.1,111.4L824.4,108.1L825.9,105.0L827.6,102.2L829.6,100.0L832.0,98.3L834.8,97.4L837.9,97.2L841.2,98.0L844.1,99.8L846.4,102.5L848.2,105.7L849.6,109.1L850.7,112.5L851.7,115.9L852.5,119.4L853.2,122.8L854.0,126.3L854.7,129.8L855.3,133.2L855.9,136.7L856.5,140.1L857.1,143.6L857.7,147.1L858.2,150.5L858.7,154.0L859.2,157.4L859.7,160.9L860.2,164.3L860.6,167.8L861.1,171.3L861.6,174.7L862.0,178.2L862.5,181.6L862.9,185.1L863.4,188.6L863.9,192.0L864.3,195.5L864.8,198.9L865.3,202.4L865.7,205.9L866.2,209.3L866.7,212.8L867.2,216.2L867.6,219.7L868.1,223.2L868.6,226.6L869.1,230.1L869.6,233.5L870.1,237.0L870.5,240.4L871.0,243.9L871.5,247.4L872.0,250.8L872.5,254.3L873.0,257.7L873.5,261.2L874.0,264.7L874.5,268.1L875.0,271.6L875.4,275.1L875.9,278.5L876.4,282.0L876.9,285.4L877.4,288.9L877.9,292.4L878.4,295.8L878.9,299.3L879.4,302.7L879.9,306.2L880.3,309.7L880.8,313.1L881.3,316.6L881.8,320.1L882.3,323.5L882.8,327.0L883.2,330.5L883.7,333.9L884.2,337.4L884.7,340.8L885.1,344.3L885.6,347.8L886.1,351.2L886.5,354.7L887.0,358.2L887.5,361.6L887.9,365.1L888.4,368.6L888.8,372.0L889.3,375.5L889.7,379.0L890.2,382.4L890.6,385.9L891.1,389.4L891.5,392.9L892.0,396.3L892.4,399.8L892.8,403.3L893.2,406.7L893.7,410.2L894.1,413.7L894.5,417.2L894.9,420.6L895.3,424.1L895.7,427.6L896.1,431.0L896.5,434.5L896.9,438.0L897.3,441.5L897.6,445.0L898.0,448.4L898.4,451.9L898.8,455.4L899.1,458.9L899.5,462.3L899.8,465.8L900.2,469.3L900.5,472.8L900.9,476.3L901.2,479.7L901.5,483.2L901.9,486.7L902.2,490.2L902.5,493.7L902.8,497.1L903.1,500.6L903.4,504.1L903.7,507.6L904.0,511.1L904.3,514.6L904.6,518.0L904.9,521.5L905.2,525.0L905.5,528.5L905.8,532.0L906.0,535.5L906.3,539.0L906.6,542.4L906.9,545.9L907.1,549.4L907.4,552.9L907.7,556.4L907.9,559.9L908.2,563.4L908.4,566.9L908.7,570.3L908.9,573.8L909.2,577.3L909.4,580.8L909.7,584.3L909.9,587.8L910.1,591.3L910.4,594.8L910.6,598.3L910.8,601.8L911.1,605.2L911.3,608.7L911.5,612.2L911.8,615.7L912.0,619.2L912.2,622.7L912.4,626.2L912.7,629.7L912.9,633.2L913.1,636.7L913.4,640.2L913.6,643.6L913.9,647.1L914.1,650.6L914.3,654.1L914.6,657.6L914.8,661.1L915.1,664.6L915.4,668.1L915.6,671.6L915.9,675.0L916.2,678.5L916.5,682.0L916.7,685.5L917.0,689.0L917.3,692.5L917.6,695.9L918.0,699.4L918.3,702.9L918.6,706.4L919.0,709.9L919.3,713.3L919.7,716.8L920.0,720.3L920.4,723.8L920.8,727.2L921.2,730.7L921.6,734.2L922.0,737.7L922.4,741.1L922.9,744.6L923.3,748.1L923.8,751.5L924.3,755.0L924.8,758.5L925.3,761.9L925.8,765.4L926.3,768.8L926.9,772.3L927.5,775.7L928.0,779.2L928.6,782.6L929.2,786.1L929.9,789.5L930.5,792.9L931.2,796.4L931.9,799.8L932.6,803.2L933.3,806.6L934.1,810.1L934.8,813.5L935.6,816.9L936.4,820.3L937.2,823.7L938.1,827.1L939.0,830.4L939.9,833.8L940.8,837.2L941.7,840.6L942.7,843.9L943.7,847.3L944.6,850.7L945.6,854.0L946.7,857.4L947.7,860.7L948.7,864.1L949.8,867.4L950.8,870.7L951.8,874.1L952.9,877.4L954.0,880.8L955.0,884.1L956.1,887.4L957.1,890.8L958.2,894.1L959.2,897.5L960.3,900.8L961.3,904.2L962.3,907.5L963.3,910.9L964.3,914.2L965.4,917.6L966.4,920.9L967.4,924.3L968.4,927.6L969.4,930.9L970.4,934.3L971.4,937.6L972.4,941.0L973.4,944.3L974.4,947.7L975.4,951.0L976.4,954.4L977.4,957.7L978.4,961.0L979.4,964.4L980.5,967.7L981.5,971.0L982.6,974.4L983.6,977.7L984.7,981.0L985.8,984.3L986.9,987.6L988.0,990.9L989.1,994.2L990.2,997.5L991.4,1000.8L992.5,1004.1L993.7,1007.4L994.9,1010.7L996.1,1013.9L997.3,1017.2L998.6,1020.4L999.9,1023.7L1001.2,1026.9L1002.5,1030.2L1003.8,1033.4L1005.2,1036.6L1006.6,1039.8L1008.0,1043.0L1009.4,1046.2L1010.9,1049.4L1012.4,1052.6L1013.9,1055.7L1015.4,1058.9L1017.0,1062.0L1018.6,1065.2L1020.2,1068.3L1021.9,1071.4L1023.5,1074.5L1025.3,1077.6L1027.0,1080.6L1028.8,1083.7L1030.6,1086.7L1032.4,1089.7L1034.3,1092.7L1036.2,1095.7L1038.1,1098.6L1040.0,1101.5L1042.0,1104.4L1044.0,1107.3L1046.1,1110.2L1048.2,1113.0L1050.3,1115.8L1052.4,1118.6L1054.6,1121.3L1056.8,1124.0L1059.0,1126.7L1061.3,1129.3L1063.6,1132.0L1065.9,1134.6L1068.3,1137.1L1070.7,1139.6L1073.2,1142.1L1075.6,1144.6L1078.1,1147.0L1080.7,1149.4L1083.3,1151.7L1085.9,1154.0L1088.5,1156.3L1091.2,1158.5L1093.9,1160.7L1096.6,1162.8L1099.4,1164.9L1102.2,1167.0L1105.1,1169.0L1107.9,1171.0L1110.8,1173.0L1113.7,1174.9L1116.6,1176.8L1119.6,1178.7L1122.6,1180.5L1125.6,1182.3L1128.6,1184.0L1131.7,1185.7L1134.7,1187.4L1137.8,1189.0L1140.9,1190.6L1144.1,1192.2L1147.2,1193.7L1150.4,1195.2L1153.6,1196.6L1156.7,1198.1L1160.0,1199.5L1163.2,1200.8L1166.4,1202.1L1169.6,1203.4L1172.9,1204.7L1176.2,1205.9L1179.4,1207.1L1182.7,1208.3L1186.0,1209.4L1189.3,1210.5L1192.7,1211.6L1196.0,1212.6L1199.3,1213.7L1202.7,1214.7L1206.0,1215.7L1209.4,1216.6L1212.7,1217.5L1216.1,1218.5L1219.5,1219.4L1222.9,1220.2L1226.3,1221.1L1229.7,1221.9L1233.1,1222.8L1236.5,1223.6L1239.9,1224.4L1243.3,1225.2L1246.7,1225.9L1250.1,1226.7L1253.6,1227.5L1257.0,1228.2L1260.4,1228.9L1263.9,1229.7L1267.3,1230.4L1270.7,1231.1L1274.2,1231.8L1277.6,1232.5L1281.1,1233.2L1284.5,1233.9L1287.9,1234.6L1291.4,1235.3L1294.8,1236.0L1298.2,1236.7L1301.7,1237.3L1305.1,1238.0L1308.6,1238.7L1312.0,1239.4L1315.4,1240.0L1318.9,1240.7L1322.3,1241.4L1325.8,1242.0L1329.2,1242.7L1332.6,1243.3L1336.1,1244.0L1339.5,1244.6L1343.0,1245.2L1346.4,1245.9L1349.8,1246.5L1353.3,1247.1L1356.7,1247.7L1360.2,1248.3L1363.6,1248.9L1367.1,1249.5L1370.5,1250.1L1374.0,1250.7L1377.4,1251.3L1380.9,1251.8L1384.3,1252.4L1387.8,1252.9L1391.2,1253.5L1394.7,1254.0L1398.1,1254.6L1401.6,1255.1L1405.0,1255.6L1408.5,1256.1L1411.9,1256.6L1415.4,1257.1L1418.8,1257.6L1422.3,1258.1L1425.8,1258.6L1429.2,1259.0L1432.7,1259.5L1436.1,1259.9L1439.6,1260.4L1443.1,1260.8L1446.5,1261.2L1450.0,1261.6L1453.5,1262.0L1456.9,1262.4L1460.4,1262.8L1463.9,1263.1L1467.4,1263.5L1470.8,1263.9L1474.3,1264.2L1477.8,1264.5L1481.3,1264.9L1484.7,1265.2L1488.2,1265.5L1491.7,1265.8L1495.2,1266.1L1498.7,1266.3L1502.1,1266.6L1505.6,1266.9L1509.1,1267.1L1512.6,1267.4L1516.1,1267.6L1519.6,1267.9L1523.1,1268.1L1526.6,1268.3L1530.0,1268.5L1533.5,1268.7L1537.0,1268.9L1540.5,1269.1L1544.0,1269.3L1547.5,1269.5L1551.0,1269.7L1554.5,1269.9L1558.0,1270.0L1561.5,1270.2L1565.0,1270.3L1568.5,1270.5L1572.0,1270.6L1575.5,1270.8L1579.0,1270.9L1582.5,1271.1L1586.0,1271.2L1589.5,1271.3L1593.0,1271.5L1596.5,1271.6L1600.0,1271.7L1603.5,1271.8L1607.0,1271.9L1610.5,1272.0L1614.0,1272.1L1617.5,1272.2L1621.0,1272.4L1624.5,1272.5L1628.0,1272.6L1631.5,1272.6L1635.0,1272.7L1638.5,1272.8L1642.0,1272.9L1645.5,1273.0L1649.0,1273.1L1652.5,1273.2L1656.0,1273.3L1659.5,1273.4L1663.0,1273.5L1666.5,1273.6L1670.0,1273.7L1673.5,1273.8L1677.0,1273.8L1680.5,1273.9L1684.0,1274.0L1687.5,1274.1L1691.0,1274.2L1694.5,1274.3L1698.0,1274.4L1701.5,1274.4L1704.9,1274.5L1708.4,1274.6L1711.9,1274.7L1715.4,1274.8L1718.9,1274.9L1722.4,1274.9L1725.9,1275.0L1729.4,1275.1L1732.9,1275.2L1736.4,1275.3L1739.9,1275.3L1743.4,1275.4L1746.9,1275.5L1750.4,1275.6L1753.9,1275.6L1757.4,1275.7L1760.9,1275.8L1764.4,1275.9L1767.9,1275.9L1771.4,1276.0L1774.9,1276.1L1778.4,1276.1L1781.9,1276.2L1785.3,1276.3L1788.8,1276.3L1792.3,1276.4L1795.8,1276.5L1799.3,1276.5L1802.8,1276.6L1806.3,1276.7L1809.8,1276.7L1813.3,1276.8L1816.8,1276.9L1820.3,1276.9L1823.8,1277.0L1827.3,1277.0L1830.8,1277.1L1834.3,1277.2L1837.8,1277.2L1841.3,1277.3L1844.8,1277.3L1848.2,1277.4L1851.7,1277.4L1855.2,1277.5L1858.7,1277.5L1862.2,1277.6L1865.7,1277.6L1869.2,1277.7L1872.7,1277.7L1876.2,1277.8L1879.7,1277.8L1883.2,1277.9L1886.7,1277.9L1890.2,1278.0L1893.7,1278.0L1897.2,1278.1L1900.7,1278.1L1904.2,1278.1L1907.6,1278.2L1911.1,1278.2L1914.6,1278.3L1918.1,1278.3L1921.6,1278.3L1925.1,1278.4L1928.6,1278.4L1932.1,1278.5L1935.6,1278.5L1939.1,1278.5L1942.6,1278.5L1946.1,1278.6L1949.6,1278.6L1953.1,1278.6L1956.6,1278.7L1960.1,1278.7L1963.6,1278.7L1967.1,1278.7L1970.6,1278.8L1974.1,1278.8L1977.5,1278.8L1981.0,1278.8L1984.5,1278.9L1988.0,1278.9L1991.5,1278.9L1995.0,1278.9L1998.5,1278.9L2002.0,1278.9L2005.5,1279.0L2009.0,1279.0L2012.5,1279.0L2016.0,1279.0L2019.5,1279.0L2023.0,1279.0L2026.5,1279.0L2030.0,1279.0L2033.5,1279.0L2037.0,1279.0L2040.5,1279.0L2044.0,1279.1L2047.5,1279.1L2051.0,1279.1L2054.5,1279.1L2058.0,1279.1L2061.5,1279.0L2065.0,1279.0L2068.5,1279.0L2072.0,1279.0L2075.5,1279.0L2079.0,1279.0L2082.5,1279.0L2086.0,1279.0" stroke="#de19de"/>
<path d="M315.0,812.0L315.2,815.5L315.4,818.9L315.6,822.4L315.8,825.9L316.0,829.3L316.3,832.8L316.5,836.3L316.7,839.8L316.9,843.2L317.1,846.7L317.3,850.2L317.5,853.7L317.7,857.2L317.9,860.7L318.1,864.2L318.3,867.7L318.5,871.2L318.7,874.6L318.9,878.1L319.1,881.6L319.4,885.1L319.6,888.6L319.8,892.1L320.0,895.6L320.2,899.1L320.5,902.6L320.7,906.2L320.9,909.7L321.2,913.2L321.4,916.7L321.7,920.2L321.9,923.7L322.2,927.2L322.4,930.7L322.7,934.2L323.0,937.7L323.3,941.2L323.6,944.7L323.8,948.2L324.1,951.7L324.5,955.2L324.8,958.7L325.1,962.2L325.4,965.7L325.8,969.2L326.1,972.7L326.4,976.2L326.8,979.7L327.2,983.2L327.6,986.7L327.9,990.2L328.3,993.7L328.7,997.1L329.2,1000.6L329.6,1004.1L330.0,1007.6L330.5,1011.1L330.9,1014.5L331.4,1018.0L331.9,1021.5L332.4,1025.0L332.9,1028.4L333.4,1031.9L333.9,1035.3L334.4,1038.8L335.0,1042.3L335.6,1045.7L336.1,1049.2L336.7,1052.6L337.3,1056.0L338.0,1059.5L338.6,1062.9L339.2,1066.3L339.9,1069.8L340.6,1073.2L341.3,1076.6L342.0,1080.0L342.7,1083.4L343.4,1086.9L344.2,1090.3L345.0,1093.7L345.7,1097.1L346.5,1100.4L347.4,1103.8L348.2,1107.2L349.0,1110.6L349.9,1114.0L350.8,1117.3L351.7,1120.7L352.6,1124.0L353.6,1127.4L354.5,1130.7L355.5,1134.1L356.5,1137.4L357.5,1140.7L358.6,1144.1L359.7,1147.4L360.8,1150.7L361.9,1154.0L363.0,1157.3L364.2,1160.5L365.4,1163.8L366.7,1167.1L368.0,1170.3L369.3,1173.5L370.7,1176.7L372.1,1179.9L373.6,1183.1L375.1,1186.3L376.7,1189.4L378.3,1192.6L380.0,1195.7L381.7,1198.8L383.5,1201.8L385.4,1204.9L387.3,1207.9L389.3,1210.9L391.3,1213.8L393.4,1216.7L395.6,1219.6L397.8,1222.4L400.1,1225.1L402.5,1227.7L404.9,1230.3L407.4,1232.8L409.9,1235.2L412.5,1237.5L415.2,1239.8L417.9,1241.9L420.8,1243.9L423.7,1245.8L426.6,1247.5L429.6,1249.1L432.7,1250.7L435.9,1252.0L439.1,1253.3L442.4,1254.4L445.7,1255.5L449.0,1256.4L452.4,1257.2L455.8,1258.0L459.3,1258.6L462.8,1259.2L466.2,1259.7L469.7,1260.2L473.2,1260.5L476.7,1260.8L480.2,1261.1L483.7,1261.3L487.2,1261.5L490.6,1261.6L494.0,1261.8L497.5,1261.9L500.9,1262.0L504.3,1262.1L507.8,1262.3L511.3,1262.5L514.8,1262.7L518.4,1263.0L522.0,1263.4L525.7,1263.8L529.4,1264.1L533.0,1264.4L536.6,1264.5L540.1,1264.4L543.5,1264.0L546.8,1263.3L549.9,1262.1L552.8,1260.6L555.6,1258.8L558.3,1256.7L561.0,1254.5L563.6,1252.1L566.2,1249.7L568.9,1247.3L571.6,1245.0L574.3,1242.7L577.0,1240.5L579.8,1238.3L582.5,1236.1L585.2,1233.9L587.9,1231.7L590.6,1229.5L593.1,1227.2L595.6,1224.8L598.1,1222.3L600.4,1219.8L602.6,1217.1L604.7,1214.4L606.7,1211.6L608.6,1208.7L610.4,1205.7L612.2,1202.6L613.8,1199.5L615.4,1196.4L616.9,1193.2L618.4,1190.0L619.8,1186.7L621.1,1183.5L622.4,1180.2L623.7,1176.9L624.9,1173.6L626.1,1170.3L627.2,1167.0L628.4,1163.7L629.5,1160.4L630.6,1157.1L631.7,1153.8L632.8,1150.5L633.8,1147.2L634.9,1143.9L636.0,1140.6L637.2,1137.3L638.3,1134.0L639.5,1130.7L640.7,1127.4L641.9,1124.2L643.2,1120.9L644.5,1117.7L645.9,1114.5L647.3,1111.3L648.7,1108.0L650.2,1104.8L651.6,1101.6L653.1,1098.5L654.6,1095.3L656.2,1092.1L657.7,1088.9L659.2,1085.7L660.7,1082.5L662.1,1079.3L663.6,1076.1L665.0,1072.9L666.4,1069.7L667.8,1066.4L669.1,1063.2L670.5,1059.9L671.7,1056.7L673.0,1053.4L674.2,1050.1L675.4,1046.9L676.6,1043.6L677.8,1040.3L678.9,1037.0L680.0,1033.7L681.1,1030.4L682.1,1027.1L683.1,1023.7L684.1,1020.4L685.1,1017.1L686.1,1013.7L687.0,1010.4L687.9,1007.0L688.8,1003.6L689.7,1000.3L690.6,996.9L691.4,993.5L692.2,990.1L693.0,986.7L693.8,983.4L694.6,980.0L695.3,976.5L696.0,973.1L696.8,969.7L697.5,966.3L698.1,962.9L698.8,959.5L699.5,956.0L700.1,952.6L700.7,949.2L701.3,945.7L701.9,942.3L702.5,938.8L703.1,935.4L703.7,931.9L704.2,928.5L704.8,925.0L705.3,921.6L705.8,918.1L706.4,914.6L706.9,911.2L707.4,907.7L707.9,904.2L708.3,900.8L708.8,897.3L709.3,893.8L709.8,890.3L710.2,886.8L710.7,883.4L711.1,879.9L711.6,876.4L712.0,872.9L712.5,869.4L712.9,866.0L713.3,862.5L713.8,859.0L714.2,855.5L714.6,852.0L715.1,848.5L715.5,845.1L715.9,841.6L716.4,838.1L716.8,834.6L717.3,831.1L717.7,827.7L718.1,824.2L718.6,820.7L719.0,817.2L719.5,813.8L719.9,810.3L720.4,806.8L720.8,803.4L721.3,799.9L721.8,796.4L722.2,792.9L722.7,789.5L723.1,786.0L723.6,782.5L724.1,779.1L724.5,775.6L725.0,772.1L725.5,768.7L725.9,765.2L726.4,761.8L726.9,758.3L727.3,754.8L727.8,751.4L728.3,747.9L728.8,744.4L729.2,741.0L729.7,737.5L730.2,734.1L730.6,730.6L731.1,727.1L731.6,723.7L732.1,720.2L732.5,716.8L733.0,713.3L733.5,709.8L734.0,706.4L734.4,702.9L734.9,699.4L735.4,696.0L735.9,692.5L736.3,689.1L736.8,685.6L737.3,682.1L737.7,678.7L738.2,675.2L738.7,671.8L739.1,668.3L739.6,664.8L740.1,661.4L740.5,657.9L741.0,654.4L741.5,651.0L741.9,647.5L742.4,644.0L742.8,640.6L743.3,637.1L743.7,633.6L744.2,630.2L744.6,626.7L745.1,623.2L745.5,619.8L746.0,616.3L746.4,612.8L746.9,609.3L747.3,605.9L747.7,602.4L748.2,598.9L748.6,595.4L749.0,592.0L749.5,588.5L749.9,585.0L750.3,581.5L750.7,578.0L751.2,574.6L751.6,571.1L752.0,567.6L752.4,564.1L752.9,560.6L753.3,557.2L753.7,553.7L754.2,550.2L754.6,546.7L755.0,543.2L755.5,539.8L755.9,536.3L756.4,532.8L756.9,529.3L757.3,525.9L757.8,522.4L758.3,518.9L758.7,515.5L759.2,512.0L759.7,508.5L760.2,505.1L760.7,501.6L761.2,498.2L761.7,494.7L762.3,491.3L762.8,487.8L763.3,484.4L763.9,480.9L764.4,477.5L765.0,474.0L765.5,470.6L766.1,467.1L766.6,463.7L767.2,460.2L767.8,456.8L768.3,453.3L768.9,449.9L769.4,446.4L769.9,443.0L770.5,439.5L771.0,436.1L771.5,432.6L772.0,429.2L772.5,425.7L773.0,422.3L773.5,418.8L774.0,415.3L774.5,411.9L775.0,408.4L775.4,404.9L775.9,401.4L776.3,398.0L776.7,394.5L777.2,391.0L777.6,387.5L778.0,384.0L778.4,380.5L778.8,377.1L779.2,373.6L779.6,370.1L780.0,366.6L780.4,363.1L780.7,359.6L781.1,356.1L781.5,352.6L781.8,349.1L782.2,345.7L782.6,342.2L782.9,338.7L783.3,335.2L783.6,331.7L783.9,328.2L784.3,324.7L784.6,321.3L784.9,317.8L785.3,314.3L785.6,310.8L785.9,307.4L786.3,303.9L786.6,300.4L786.9,296.9L787.2,293.5L787.6,290.0L787.9,286.5L788.2,283.1L788.5,279.6L788.8,276.1L789.1,272.7L789.4,269.2L789.7,265.7L790.0,262.3L790.4,258.8L790.7,255.3L791.0,251.9L791.3,248.4L791.6,244.9L791.9,241.4L792.2,238.0L792.5,234.5L792.7,231.0L793.0,227.6L793.3,224.1L793.6,220.6L793.9,217.1L794.2,213.7L794.5,210.2L794.8,206.7L795.1,203.2L795.4,199.7L795.6,196.2L795.9,192.7L796.2,189.2L796.5,185.7L796.8,182.2L797.0,178.7L797.3,175.2L797.6,171.7L797.9,168.2L798.2,164.7L798.4,161.2L798.7,157.6L799.0,154.1L799.3,150.6L799.5,147.0L799.8,143.5L800.1,139.9L800.4,136.4L800.6,132.8L800.9,129.3L801.2,125.7L801.5,122.2L801.9,118.7L802.4,115.2L803.0,111.8L803.9,108.5L804.9,105.3L806.2,102.3L807.7,99.3L809.6,96.6L811.8,94.5L814.2,94.0L816.5,95.5L818.3,98.3L819.7,102.1L820.6,106.3L821.3,110.4L821.7,114.3L822.0,117.9L822.2,121.3L822.4,124.6L822.7,127.9L823.1,131.1L823.6,134.4L824.3,137.7L825.1,141.1L825.9,144.4L826.8,147.8L827.8,151.2L828.7,154.6L829.7,158.0L830.6,161.4L831.5,164.8L832.4,168.2L833.2,171.6L834.1,175.1L834.9,178.5L835.7,181.9L836.6,185.3L837.3,188.7L838.1,192.2L838.9,195.6L839.6,199.0L840.4,202.4L841.1,205.9L841.8,209.3L842.5,212.7L843.2,216.2L843.8,219.6L844.5,223.1L845.1,226.5L845.7,229.9L846.4,233.4L847.0,236.8L847.6,240.3L848.1,243.7L848.7,247.2L849.3,250.6L849.8,254.1L850.4,257.5L850.9,261.0L851.5,264.5L852.0,267.9L852.5,271.4L853.0,274.8L853.5,278.3L854.0,281.8L854.4,285.2L854.9,288.7L855.4,292.2L855.9,295.6L856.3,299.1L856.8,302.6L857.2,306.0L857.6,309.5L858.1,313.0L858.5,316.5L858.9,319.9L859.4,323.4L859.8,326.9L860.2,330.3L860.6,333.8L861.0,337.3L861.4,340.8L861.8,344.2L862.2,347.7L862.6,351.2L863.0,354.7L863.4,358.1L863.8,361.6L864.2,365.1L864.6,368.6L865.0,372.0L865.4,375.5L865.8,379.0L866.2,382.5L866.6,385.9L867.0,389.4L867.4,392.9L867.7,396.4L868.1,399.8L868.5,403.3L868.9,406.8L869.3,410.3L869.7,413.7L870.1,417.2L870.4,420.7L870.8,424.2L871.2,427.6L871.6,431.1L872.0,434.6L872.3,438.1L872.7,441.6L873.1,445.0L873.5,448.5L873.9,452.0L874.2,455.5L874.6,458.9L875.0,462.4L875.4,465.9L875.8,469.4L876.1,472.8L876.5,476.3L876.9,479.8L877.3,483.3L877.7,486.8L878.0,490.2L878.4,493.7L878.8,497.2L879.2,500.7L879.6,504.1L879.9,507.6L880.3,511.1L880.7,514.6L881.1,518.0L881.5,521.5L881.9,525.0L882.2,528.5L882.6,532.0L883.0,535.4L883.4,538.9L883.8,542.4L884.2,545.9L884.6,549.3L884.9,552.8L885.3,556.3L885.7,559.8L886.1,563.2L886.5,566.7L886.9,570.2L887.3,573.7L887.7,577.2L888.1,580.6L888.5,584.1L888.9,587.6L889.3,591.1L889.7,594.5L890.1,598.0L890.5,601.5L890.9,605.0L891.3,608.4L891.7,611.9L892.1,615.4L892.6,618.9L893.0,622.4L893.4,625.8L893.8,629.3L894.2,632.8L894.6,636.3L895.1,639.7L895.5,643.2L895.9,646.7L896.3,650.2L896.8,653.6L897.2,657.1L897.6,660.6L898.1,664.1L898.5,667.5L899.0,671.0L899.4,674.5L899.9,678.0L900.3,681.4L900.8,684.9L901.2,688.4L901.7,691.9L902.1,695.3L902.6,698.8L903.1,702.3L903.6,705.8L904.0,709.2L904.5,712.7L905.0,716.2L905.5,719.6L906.0,723.1L906.5,726.6L907.0,730.0L907.5,733.5L908.0,737.0L908.5,740.4L909.0,743.9L909.6,747.3L910.1,750.8L910.6,754.3L911.2,757.7L911.7,761.2L912.3,764.6L912.8,768.1L913.4,771.6L914.0,775.0L914.5,778.5L915.1,781.9L915.7,785.4L916.3,788.8L916.9,792.2L917.5,795.7L918.1,799.1L918.8,802.6L919.4,806.0L920.0,809.5L920.7,812.9L921.3,816.3L922.0,819.8L922.7,823.2L923.3,826.6L924.0,830.1L924.7,833.5L925.4,836.9L926.1,840.3L926.8,843.7L927.5,847.2L928.3,850.6L929.0,854.0L929.8,857.4L930.5,860.8L931.3,864.2L932.1,867.6L932.8,871.0L933.6,874.4L934.4,877.8L935.3,881.2L936.1,884.6L936.9,888.0L937.7,891.4L938.6,894.8L939.5,898.2L940.3,901.6L941.2,905.0L942.1,908.3L943.0,911.7L943.9,915.1L944.8,918.4L945.8,921.8L946.7,925.2L947.7,928.5L948.7,931.9L949.6,935.3L950.6,938.6L951.6,942.0L952.6,945.3L953.7,948.6L954.7,952.0L955.8,955.3L956.8,958.7L957.9,962.0L959.0,965.3L960.1,968.6L961.2,972.0L962.3,975.3L963.4,978.6L964.6,981.9L965.7,985.2L966.9,988.5L968.0,991.9L969.2,995.2L970.4,998.5L971.6,1001.8L972.8,1005.1L974.0,1008.4L975.2,1011.7L976.4,1014.9L977.6,1018.2L978.9,1021.5L980.1,1024.8L981.4,1028.1L982.6,1031.4L983.9,1034.7L985.2,1037.9L986.4,1041.2L987.7,1044.5L989.0,1047.8L990.3,1051.0L991.6,1054.3L992.9,1057.6L994.2,1060.8L995.5,1064.1L996.9,1067.3L998.2,1070.5L999.6,1073.8L1001.1,1076.9L1002.5,1080.1L1004.0,1083.3L1005.5,1086.4L1007.1,1089.5L1008.7,1092.6L1010.4,1095.7L1012.1,1098.7L1013.9,1101.7L1015.7,1104.6L1017.6,1107.6L1019.5,1110.4L1021.6,1113.3L1023.7,1116.1L1025.8,1118.8L1028.1,1121.5L1030.4,1124.2L1032.7,1126.8L1035.2,1129.3L1037.7,1131.9L1040.2,1134.3L1042.8,1136.7L1045.4,1139.1L1048.0,1141.4L1050.6,1143.7L1053.3,1145.9L1056.0,1148.1L1058.7,1150.3L1061.5,1152.4L1064.2,1154.5L1067.0,1156.6L1069.8,1158.7L1072.5,1160.8L1075.3,1162.9L1078.1,1165.0L1080.9,1167.2L1083.7,1169.3L1086.5,1171.4L1089.3,1173.6L1092.1,1175.8L1094.9,1177.9L1097.8,1180.0L1100.6,1182.1L1103.5,1184.2L1106.4,1186.2L1109.3,1188.1L1112.3,1190.0L1115.2,1191.9L1118.2,1193.7L1121.3,1195.4L1124.3,1197.0L1127.4,1198.6L1130.6,1200.2L1133.7,1201.6L1136.9,1203.1L1140.1,1204.4L1143.3,1205.8L1146.5,1207.0L1149.8,1208.3L1153.1,1209.5L1156.3,1210.6L1159.6,1211.7L1163.0,1212.8L1166.3,1213.9L1169.7,1214.9L1173.0,1215.9L1176.4,1216.8L1179.8,1217.8L1183.1,1218.7L1186.5,1219.6L1189.9,1220.5L1193.3,1221.3L1196.8,1222.2L1200.2,1223.0L1203.6,1223.9L1207.0,1224.7L1210.4,1225.5L1213.8,1226.3L1217.2,1227.1L1220.6,1227.9L1224.0,1228.7L1227.5,1229.4L1230.9,1230.2L1234.3,1230.9L1237.7,1231.7L1241.1,1232.4L1244.6,1233.1L1248.0,1233.8L1251.4,1234.5L1254.9,1235.2L1258.3,1235.9L1261.7,1236.5L1265.2,1237.2L1268.6,1237.8L1272.0,1238.5L1275.5,1239.1L1278.9,1239.7L1282.4,1240.3L1285.8,1240.8L1289.3,1241.4L1292.7,1241.9L1296.2,1242.5L1299.6,1243.0L1303.1,1243.5L1306.6,1244.0L1310.0,1244.5L1313.5,1244.9L1317.0,1245.4L1320.4,1245.8L1323.9,1246.3L1327.4,1246.7L1330.9,1247.1L1334.3,1247.5L1337.8,1247.9L1341.3,1248.3L1344.8,1248.7L1348.3,1249.1L1351.7,1249.5L1355.2,1249.8L1358.7,1250.2L1362.2,1250.6L1365.7,1250.9L1369.2,1251.3L1372.6,1251.6L1376.1,1252.0L1379.6,1252.3L1383.1,1252.7L1386.6,1253.0L1390.1,1253.3L1393.5,1253.7L1397.0,1254.0L1400.5,1254.3L1404.0,1254.6L1407.5,1254.9L1411.0,1255.2L1414.5,1255.5L1417.9,1255.8L1421.4,1256.1L1424.9,1256.4L1428.4,1256.7L1431.9,1257.0L1435.4,1257.2L1438.9,1257.5L1442.4,1257.8L1445.8,1258.1L1449.3,1258.3L1452.8,1258.6L1456.3,1258.8L1459.8,1259.1L1463.3,1259.3L1466.8,1259.6L1470.3,1259.8L1473.8,1260.1L1477.2,1260.3L1480.7,1260.5L1484.2,1260.7L1487.7,1261.0L1491.2,1261.2L1494.7,1261.4L1498.2,1261.6L1501.7,1261.8L1505.2,1262.0L1508.7,1262.2L1512.2,1262.4L1515.7,1262.6L1519.1,1262.8L1522.6,1263.0L1526.1,1263.2L1529.6,1263.4L1533.1,1263.6L1536.6,1263.8L1540.1,1263.9L1543.6,1264.1L1547.1,1264.3L1550.6,1264.4L1554.1,1264.6L1557.6,1264.8L1561.1,1264.9L1564.6,1265.1L1568.1,1265.2L1571.6,1265.4L1575.1,1265.5L1578.6,1265.7L1582.1,1265.8L1585.5,1266.0L1589.0,1266.1L1592.5,1266.2L1596.0,1266.4L1599.5,1266.5L1603.0,1266.6L1606.5,1266.7L1610.0,1266.9L1613.5,1267.0L1617.0,1267.1L1620.5,1267.2L1624.0,1267.3L1627.5,1267.4L1631.0,1267.5L1634.5,1267.6L1638.0,1267.7L1641.5,1267.8L1645.0,1267.9L1648.5,1268.0L1652.0,1268.1L1655.5,1268.2L1659.0,1268.3L1662.5,1268.4L1666.0,1268.5L1669.5,1268.6L1673.0,1268.7L1676.5,1268.7L1680.0,1268.8L1683.5,1268.9L1687.0,1269.0L1690.5,1269.1L1694.0,1269.1L1697.5,1269.2L1701.0,1269.3L1704.5,1269.3L1708.0,1269.4L1711.5,1269.5L1715.0,1269.5L1718.5,1269.6L1722.0,1269.6L1725.5,1269.7L1729.0,1269.8L1732.5,1269.8L1736.0,1269.9L1739.5,1269.9L1743.0,1270.0L1746.5,1270.0L1750.0,1270.1L1753.5,1270.1L1757.0,1270.2L1760.5,1270.2L1764.0,1270.3L1767.5,1270.3L1771.0,1270.3L1774.5,1270.4L1778.0,1270.4L1781.5,1270.5L1785.0,1270.5L1788.5,1270.5L1792.0,1270.6L1795.5,1270.6L1799.0,1270.6L1802.5,1270.7L1806.0,1270.7L1809.5,1270.7L1813.0,1270.8L1816.5,1270.8L1820.0,1270.8L1823.5,1270.8L1827.0,1270.9L1830.5,1270.9L1834.0,1270.9L1837.5,1270.9L1841.0,1271.0L1844.5,1271.0L1848.0,1271.0L1851.5,1271.0L1855.0,1271.1L1858.5,1271.1L1862.0,1271.1L1865.5,1271.1L1869.0,1271.1L1872.5,1271.2L1876.0,1271.2L1879.5,1271.2L1883.0,1271.2L1886.5,1271.2L1890.0,1271.3L1893.5,1271.3L1897.0,1271.3L1900.5,1271.3L1904.0,1271.3L1907.5,1271.4L1911.0,1271.4L1914.5,1271.4L1918.0,1271.4L1921.6,1271.4L1925.1,1271.5L1928.6,1271.5L1932.1,1271.5L1935.6,1271.5L1939.1,1271.5L1942.6,1271.6L1946.1,1271.6L1949.6,1271.6L1953.1,1271.6L1956.6,1271.7L1960.1,1271.7L1963.6,1271.7L1967.1,1271.7L1970.6,1271.7L1974.1,1271.8L1977.6,1271.8L1981.1,1271.8L1984.6,1271.9L1988.1,1271.9L1991.6,1271.9L1995.1,1271.9L1998.6,1272.0L2002.1,1272.0L2005.6,1272.0L2009.1,1272.1L2012.5,1272.1L2016.0,1272.1L2019.5,1272.2L2023.0,1272.2L2026.5,1272.2L2030.0,1272.3L2033.5,1272.3L2037.0,1272.3L2040.5,1272.4L2044.0,1272.4L2047.5,1272.5L2051.0,1272.5L2054.5,1272.5L2058.0,1272.6L2061.5,1272.6L2065.0,1272.7L2068.5,1272.7L2072.0,1272.8L2075.5,1272.8L2079.0,1272.9L2082.5,1273.0L2086.0,1273.0" stroke="#7f7d0f"/>
</g>
<rect x="315" y="20.5" width="1771" height="1267.5" fill="none" stroke="#000" stroke-width="6"/>
<text transform="translate(462.6,1368.3) scale(1,1.05)" text-anchor="middle" class="t">400</text>
<text transform="translate(757.7,1368.3) scale(1,1.05)" text-anchor="middle" class="t">600</text>
<text transform="translate(1052.9,1368.3) scale(1,1.05)" text-anchor="middle" class="t">800</text>
<text transform="translate(1348.1,1368.3) scale(1,1.05)" text-anchor="middle" class="t">1000</text>
<text transform="translate(1643.2,1368.3) scale(1,1.05)" text-anchor="middle" class="t">1200</text>
<text transform="translate(1938.4,1368.3) scale(1,1.05)" text-anchor="middle" class="t">1400</text>
<text transform="translate(285.5,1305.8) scale(1,1.05)" text-anchor="end" class="t">0</text>
<text transform="translate(285.5,1136.7) scale(1,1.05)" text-anchor="end" class="t">20</text>
<text transform="translate(285.5,967.6) scale(1,1.05)" text-anchor="end" class="t">40</text>
<text transform="translate(285.5,798.5) scale(1,1.05)" text-anchor="end" class="t">60</text>
<text transform="translate(285.5,629.4) scale(1,1.05)" text-anchor="end" class="t">80</text>
<text transform="translate(285.5,460.3) scale(1,1.05)" text-anchor="end" class="t">100</text>
<text transform="translate(285.5,291.2) scale(1,1.05)" text-anchor="end" class="t">120</text>
<text transform="translate(285.5,122.1) scale(1,1.05)" text-anchor="end" class="t">140</text>
<text x="924" y="1496.5" class="xt">Wavelength (nm)</text>
<text transform="translate(86.5,929) rotate(-90)" class="yt"><tspan x="-4.4" y="0" font-style="italic">Q</tspan><tspan x="54.3" y="32.4" font-size="50">ext</tspan><tspan x="114.3" y="0">/</tspan><tspan x="156.2" y="0" font-style="italic">a</tspan><tspan x="197.7" y="32.4" font-size="50" letter-spacing="3">eff</tspan><tspan x="272.3" y="0">(</tspan><tspan x="298.3" y="0">μm</tspan><tspan x="407.2" y="-44" font-size="48">-1</tspan><tspan x="446.4" y="0">)</tspan></text>
<path d="M1333.5,194.5H1507.5" stroke="#000000" stroke-width="10"/>
<text y="218.2" class="lg"><tspan x="1519.6">Na</tspan><tspan x="1606.9" dy="29.3" font-size="44.5">0.522</tspan><tspan x="1710.1" dy="-29.3">WO</tspan><tspan x="1829.6" dy="29.3" font-size="44.5">3</tspan></text>
<path d="M1333.5,311.0H1507.5" stroke="#e20c0c" stroke-width="10"/>
<text y="334.1" class="lg"><tspan x="1519.6">Na</tspan><tspan x="1606.9" dy="29.3" font-size="44.5">0.628</tspan><tspan x="1710.1" dy="-29.3">WO</tspan><tspan x="1829.6" dy="29.3" font-size="44.5">3</tspan></text>
<path d="M1333.5,425.8H1507.5" stroke="#0208e4" stroke-width="10"/>
<text y="450.1" class="lg"><tspan x="1519.6">Na</tspan><tspan x="1606.9" dy="29.3" font-size="44.5">0.695</tspan><tspan x="1710.1" dy="-29.3">WO</tspan><tspan x="1829.6" dy="29.3" font-size="44.5">3</tspan></text>
<path d="M1333.5,542.4H1507.5" stroke="#177a7a" stroke-width="10"/>
<text y="566.0" class="lg"><tspan x="1519.6">Na</tspan><tspan x="1606.9" dy="29.3" font-size="44.5">0.740</tspan><tspan x="1710.1" dy="-29.3">WO</tspan><tspan x="1829.6" dy="29.3" font-size="44.5">3</tspan></text>
<path d="M1333.5,657.5H1507.5" stroke="#de19de" stroke-width="10"/>
<text y="682.0" class="lg"><tspan x="1519.6">Na</tspan><tspan x="1606.9" dy="29.3" font-size="44.5">0.860</tspan><tspan x="1710.1" dy="-29.3">WO</tspan><tspan x="1829.6" dy="29.3" font-size="44.5">3</tspan></text>
<path d="M1333.5,774.3H1507.5" stroke="#7f7d0f" stroke-width="10"/>
<text y="798.0" class="lg"><tspan x="1519.6">Na</tspan><tspan x="1606.9" dy="29.3" font-size="44.5">0.940</tspan><tspan x="1710.1" dy="-29.3">WO</tspan><tspan x="1829.6" dy="29.3" font-size="44.5">3</tspan></text>
</svg>
</body></html>
